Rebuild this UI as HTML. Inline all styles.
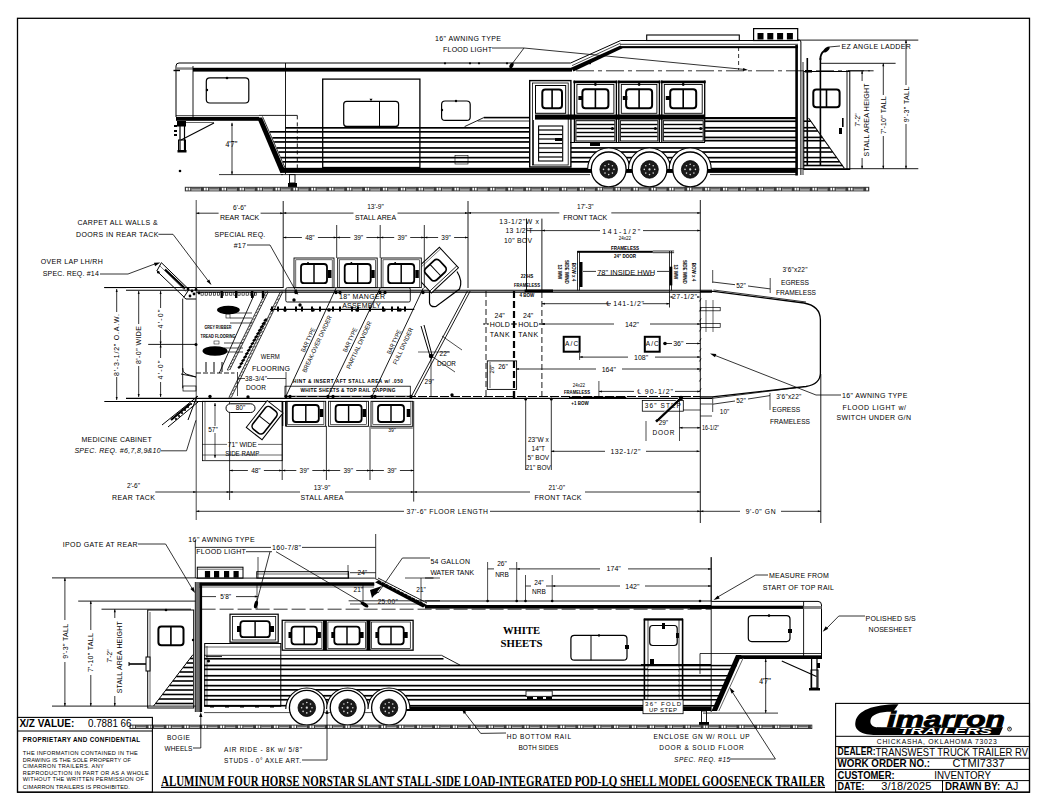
<!DOCTYPE html>
<html><head><meta charset="utf-8"><style>
html,body{margin:0;padding:0;background:#fff;width:1048px;height:810px;overflow:hidden}
svg{display:block}

</style></head><body>
<svg width="1048" height="810" viewBox="0 0 1048 810">
<rect x="0" y="0" width="1048" height="810" fill="#fff"/>
<rect x="17.5" y="18.3" width="1012.0" height="773.9" stroke="#000" stroke-width="1.3" fill="none"/>
<path d="M176,117 L176,66 Q176,63 179,63 L570.6,63 L620.7,40.5 L799,40.5" stroke="#000" stroke-width="1.0" fill="none"/>
<rect x="193.0" y="67.8" width="379.0" height="3.8" fill="#000"/>
<polygon points="571.0,67.8 573.5,71.6 622.5,48.3 620.5,45.6" stroke="#000" stroke-width="0" fill="#000"/>
<rect x="620.5" y="46.1" width="177.5" height="2.1" fill="#000"/>
<line x1="620.0" y1="44.3" x2="798.0" y2="44.3" stroke="#000" stroke-width="0.8" stroke-linecap="butt"/>
<line x1="572.0" y1="65.6" x2="620.5" y2="43.2" stroke="#000" stroke-width="0.7" stroke-linecap="butt"/>
<rect x="176.5" y="67.3" width="16.5" height="2.5" fill="#888"/>
<rect x="173.5" y="69.8" width="6.5" height="1.4" fill="#000"/>
<line x1="193.0" y1="66.0" x2="193.0" y2="117.0" stroke="#000" stroke-width="0.9" stroke-linecap="butt"/>
<line x1="285.5" y1="63.0" x2="285.5" y2="174.0" stroke="#000" stroke-width="0.9" stroke-linecap="butt"/>
<rect x="206.3" y="77.9" width="42.5" height="25.1" stroke="#000" stroke-width="1.2" fill="none" rx="3.5"/>
<circle cx="227.0" cy="78.0" r="1.3" fill="#000"/>
<circle cx="207.0" cy="90.0" r="1.2" fill="#000"/>
<rect x="322.7" y="79.1" width="97.2" height="88.4" stroke="#000" stroke-width="1.3" fill="none"/>
<rect x="343.7" y="101.3" width="54.9" height="25.1" stroke="#000" stroke-width="1.2" fill="none" rx="3"/>
<line x1="379.5" y1="101.3" x2="379.5" y2="126.4" stroke="#000" stroke-width="1.0" stroke-linecap="butt"/>
<polygon points="371.0,101.3 369.5,98.8 372.5,98.8" fill="#000"/>
<rect x="441.6" y="101.0" width="28.6" height="19.4" stroke="#000" stroke-width="1.2" fill="none" rx="3.5"/>
<circle cx="456.0" cy="101.0" r="1.2" fill="#000"/>
<circle cx="442.0" cy="110.0" r="1.2" fill="#000"/>
<rect x="176.0" y="117.0" width="83.0" height="3.8" fill="#000"/>
<line x1="176.0" y1="115.7" x2="259.0" y2="115.7" stroke="#000" stroke-width="0.8" stroke-linecap="butt"/>
<line x1="178.0" y1="122.5" x2="214.0" y2="122.5" stroke="#000" stroke-width="0.6" stroke-linecap="butt"/>
<polygon points="257.0,117.4 262.0,117.4 285.0,170.0 280.5,173.2" stroke="#000" stroke-width="0" fill="#000"/>
<line x1="262.5" y1="116.5" x2="286.0" y2="170.0" stroke="#000" stroke-width="0.8" stroke-linecap="butt"/>
<line x1="259.0" y1="115.4" x2="297.3" y2="115.4" stroke="#000" stroke-width="0.9" stroke-linecap="butt"/>
<line x1="297.3" y1="115.4" x2="297.3" y2="168.0" stroke="#000" stroke-width="0.9" stroke-linecap="butt" stroke-dasharray="4,3"/>
<rect x="285.5" y="127.0" width="244.2" height="1.7" fill="#000"/>
<rect x="269.8" y="131.0" width="259.9" height="1.7" fill="#000"/>
<rect x="272.4" y="137.0" width="257.3" height="1.7" fill="#000"/>
<rect x="274.2" y="141.1" width="255.5" height="1.7" fill="#000"/>
<rect x="276.8" y="147.1" width="252.9" height="1.7" fill="#000"/>
<rect x="278.6" y="151.2" width="251.1" height="1.7" fill="#000"/>
<rect x="281.0" y="156.8" width="248.7" height="1.7" fill="#000"/>
<rect x="282.8" y="161.0" width="246.9" height="1.7" fill="#000"/>
<line x1="464.6" y1="126.6" x2="483.8" y2="117.6" stroke="#000" stroke-width="0.9" stroke-linecap="butt"/>
<rect x="483.8" y="116.8" width="46.2" height="1.6" fill="#000"/>
<line x1="477.6" y1="121.0" x2="530.0" y2="121.0" stroke="#000" stroke-width="0.8" stroke-linecap="butt"/>
<rect x="455.0" y="155.5" width="13.0" height="8.5" stroke="#000" stroke-width="0.6" fill="none"/>
<rect x="281.0" y="167.8" width="516.0" height="5.1" fill="#000"/>
<line x1="281.0" y1="174.6" x2="590.0" y2="174.6" stroke="#000" stroke-width="0.8" stroke-linecap="butt"/>
<line x1="710.0" y1="174.6" x2="797.0" y2="174.6" stroke="#000" stroke-width="0.8" stroke-linecap="butt"/>
<rect x="177.0" y="121.0" width="9.0" height="5.5" fill="#000"/>
<line x1="180.0" y1="121.0" x2="180.0" y2="150.0" stroke="#000" stroke-width="1.2" stroke-linecap="butt"/>
<line x1="184.5" y1="121.0" x2="184.5" y2="150.0" stroke="#000" stroke-width="1.2" stroke-linecap="butt"/>
<rect x="178.5" y="140.0" width="7.0" height="11.0" stroke="#000" stroke-width="1.0" fill="none"/>
<rect x="177.5" y="150.0" width="9.0" height="2.5" fill="#000"/>
<line x1="181.0" y1="140.0" x2="214.0" y2="123.0" stroke="#000" stroke-width="1.1" stroke-linecap="butt"/>
<rect x="174.0" y="125.0" width="3.0" height="2.0" fill="#000"/>
<rect x="174.0" y="130.0" width="3.0" height="2.0" fill="#000"/>
<rect x="174.0" y="134.0" width="3.0" height="2.0" fill="#000"/>
<circle cx="180.0" cy="171.0" r="1.3" fill="#000"/>
<line x1="232.0" y1="122.8" x2="232.0" y2="174.6" stroke="#000" stroke-width="0.8" stroke-linecap="butt"/>
<polygon points="232.0,122.8 233.0,125.8 231.0,125.8" fill="#000"/>
<polygon points="232.0,174.6 231.0,171.6 233.0,171.6" fill="#000"/>
<line x1="219.0" y1="174.6" x2="283.0" y2="174.6" stroke="#000" stroke-width="0.8" stroke-linecap="butt"/>
<text x="231.5" y="147.2" font-family="Liberation Serif" font-size="7.5" text-anchor="middle" fill="#000" stroke="#000" stroke-width="0.1">4'7"</text>
<rect x="289.5" y="174.6" width="5.5" height="8.4" stroke="#000" stroke-width="0.9" fill="none"/>
<rect x="288.0" y="183.0" width="9.0" height="4.0" fill="#000"/>
<rect x="529.7" y="80.6" width="41.2" height="86.4" stroke="#000" stroke-width="1.4" fill="none"/>
<rect x="532.4" y="83.0" width="35.8" height="82.0" stroke="#000" stroke-width="0.8" fill="none"/>
<rect x="535.5" y="85.5" width="30.2" height="27.8" stroke="#000" stroke-width="1.0" fill="none"/>
<rect x="542.3" y="89.6" width="19.7" height="18.7" stroke="#000" stroke-width="2.0" fill="none" rx="3"/>
<line x1="552.1" y1="89.6" x2="552.1" y2="108.3" stroke="#000" stroke-width="1.6" stroke-linecap="butt"/>
<rect x="538.6" y="126.0" width="24.1" height="35.0" stroke="#000" stroke-width="1.1" fill="none"/>
<rect x="539.0" y="129.4" width="23.3" height="1.2" fill="#000"/>
<rect x="539.0" y="133.9" width="23.3" height="1.2" fill="#000"/>
<rect x="539.0" y="138.4" width="23.3" height="1.2" fill="#000"/>
<rect x="539.0" y="142.9" width="23.3" height="1.2" fill="#000"/>
<rect x="539.0" y="147.4" width="23.3" height="1.2" fill="#000"/>
<rect x="539.0" y="151.9" width="23.3" height="1.2" fill="#000"/>
<rect x="539.0" y="156.4" width="23.3" height="1.2" fill="#000"/>
<rect x="555.0" y="138.0" width="7.0" height="3.0" fill="#000"/>
<line x1="533.5" y1="120.0" x2="533.5" y2="165.0" stroke="#000" stroke-width="0.8" stroke-linecap="butt"/>
<rect x="573.4" y="80.6" width="44.0" height="2.6" fill="#000"/>
<line x1="574.4" y1="80.6" x2="574.4" y2="142.0" stroke="#000" stroke-width="1.3" stroke-linecap="butt"/>
<line x1="616.4" y1="80.6" x2="616.4" y2="142.0" stroke="#000" stroke-width="1.3" stroke-linecap="butt"/>
<rect x="576.9" y="84.5" width="37.0" height="28.8" stroke="#000" stroke-width="0.9" fill="none"/>
<rect x="582.4" y="89.2" width="26.0" height="19.1" stroke="#000" stroke-width="2.0" fill="none" rx="3"/>
<line x1="595.4" y1="89.2" x2="595.4" y2="108.3" stroke="#000" stroke-width="1.6" stroke-linecap="butt"/>
<circle cx="595.4" cy="84.5" r="1.4" fill="#000"/>
<rect x="578.4" y="96.0" width="4.6" height="4.0" fill="#000"/>
<rect x="575.9" y="120.7" width="39.0" height="20.3" stroke="#000" stroke-width="1.0" fill="none"/>
<rect x="576.4" y="123.8" width="38.0" height="1.4" fill="#000"/>
<rect x="576.4" y="127.8" width="38.0" height="1.4" fill="#000"/>
<rect x="576.4" y="131.8" width="38.0" height="1.4" fill="#000"/>
<rect x="576.4" y="135.8" width="38.0" height="1.4" fill="#000"/>
<circle cx="612.4" cy="128.5" r="1.5" fill="#000"/>
<rect x="617.8" y="80.6" width="42.6" height="2.6" fill="#000"/>
<line x1="618.8" y1="80.6" x2="618.8" y2="142.0" stroke="#000" stroke-width="1.3" stroke-linecap="butt"/>
<line x1="659.4" y1="80.6" x2="659.4" y2="142.0" stroke="#000" stroke-width="1.3" stroke-linecap="butt"/>
<rect x="621.3" y="84.5" width="35.6" height="28.8" stroke="#000" stroke-width="0.9" fill="none"/>
<rect x="626.1" y="89.2" width="26.0" height="19.1" stroke="#000" stroke-width="2.0" fill="none" rx="3"/>
<line x1="639.1" y1="89.2" x2="639.1" y2="108.3" stroke="#000" stroke-width="1.6" stroke-linecap="butt"/>
<circle cx="639.1" cy="84.5" r="1.4" fill="#000"/>
<rect x="622.8" y="96.0" width="4.6" height="4.0" fill="#000"/>
<rect x="620.3" y="120.7" width="37.6" height="20.3" stroke="#000" stroke-width="1.0" fill="none"/>
<rect x="620.8" y="123.8" width="36.6" height="1.4" fill="#000"/>
<rect x="620.8" y="127.8" width="36.6" height="1.4" fill="#000"/>
<rect x="620.8" y="131.8" width="36.6" height="1.4" fill="#000"/>
<rect x="620.8" y="135.8" width="36.6" height="1.4" fill="#000"/>
<circle cx="655.4" cy="128.5" r="1.5" fill="#000"/>
<rect x="660.8" y="80.6" width="44.9" height="2.6" fill="#000"/>
<line x1="661.8" y1="80.6" x2="661.8" y2="142.0" stroke="#000" stroke-width="1.3" stroke-linecap="butt"/>
<line x1="704.7" y1="80.6" x2="704.7" y2="142.0" stroke="#000" stroke-width="1.3" stroke-linecap="butt"/>
<rect x="664.3" y="84.5" width="37.9" height="28.8" stroke="#000" stroke-width="0.9" fill="none"/>
<rect x="670.2" y="89.2" width="26.0" height="19.1" stroke="#000" stroke-width="2.0" fill="none" rx="3"/>
<line x1="683.2" y1="89.2" x2="683.2" y2="108.3" stroke="#000" stroke-width="1.6" stroke-linecap="butt"/>
<circle cx="683.2" cy="84.5" r="1.4" fill="#000"/>
<rect x="665.8" y="96.0" width="4.6" height="4.0" fill="#000"/>
<rect x="663.3" y="120.7" width="39.9" height="20.3" stroke="#000" stroke-width="1.0" fill="none"/>
<rect x="663.8" y="123.8" width="38.9" height="1.4" fill="#000"/>
<rect x="663.8" y="127.8" width="38.9" height="1.4" fill="#000"/>
<rect x="663.8" y="131.8" width="38.9" height="1.4" fill="#000"/>
<rect x="663.8" y="135.8" width="38.9" height="1.4" fill="#000"/>
<circle cx="700.7" cy="128.5" r="1.5" fill="#000"/>
<rect x="535.0" y="114.5" width="170.0" height="5.1" fill="#000"/>
<line x1="570.0" y1="142.5" x2="705.0" y2="142.5" stroke="#000" stroke-width="1.0" stroke-linecap="butt"/>
<rect x="570.9" y="147.1" width="226.1" height="1.7" fill="#000"/>
<rect x="570.9" y="151.2" width="226.1" height="1.7" fill="#000"/>
<rect x="570.9" y="156.8" width="226.1" height="1.7" fill="#000"/>
<rect x="570.9" y="161.0" width="226.1" height="1.7" fill="#000"/>
<rect x="705.0" y="120.4" width="92.0" height="1.7" fill="#000"/>
<rect x="705.0" y="126.9" width="92.0" height="1.7" fill="#000"/>
<rect x="705.0" y="130.2" width="92.0" height="1.7" fill="#000"/>
<rect x="705.0" y="136.6" width="92.0" height="1.7" fill="#000"/>
<rect x="705.0" y="139.8" width="92.0" height="1.7" fill="#000"/>
<rect x="705.0" y="117.0" width="92.0" height="2.2" fill="#000"/>
<rect x="590.0" y="143.0" width="10.0" height="3.0" fill="#000"/>
<path d="M587.7,169 A21,21 0 0 1 629.7,169" stroke="#000" stroke-width="1.1" fill="#fff"/>
<path d="M628.5,169 A21,21 0 0 1 670.5,169" stroke="#000" stroke-width="1.1" fill="#fff"/>
<path d="M669.2,169 A21,21 0 0 1 711.2,169" stroke="#000" stroke-width="1.1" fill="#fff"/>
<circle cx="608.7" cy="169.4" r="17.4" stroke="#000" stroke-width="1.3" fill="#fff"/>
<circle cx="608.7" cy="169.4" r="8.8" stroke="#000" stroke-width="0.8" fill="#1a1a1a"/>
<circle cx="613.9" cy="169.4" r="0.9" fill="#000"/>
<circle cx="613.9" cy="169.4" r="0.8" fill="#ddd"/>
<circle cx="612.4" cy="173.1" r="0.9" fill="#000"/>
<circle cx="612.4" cy="173.1" r="0.8" fill="#ddd"/>
<circle cx="608.7" cy="174.6" r="0.9" fill="#000"/>
<circle cx="608.7" cy="174.6" r="0.8" fill="#ddd"/>
<circle cx="605.0" cy="173.1" r="0.9" fill="#000"/>
<circle cx="605.0" cy="173.1" r="0.8" fill="#ddd"/>
<circle cx="603.5" cy="169.4" r="0.9" fill="#000"/>
<circle cx="603.5" cy="169.4" r="0.8" fill="#ddd"/>
<circle cx="605.0" cy="165.7" r="0.9" fill="#000"/>
<circle cx="605.0" cy="165.7" r="0.8" fill="#ddd"/>
<circle cx="608.7" cy="164.2" r="0.9" fill="#000"/>
<circle cx="608.7" cy="164.2" r="0.8" fill="#ddd"/>
<circle cx="612.4" cy="165.7" r="0.9" fill="#000"/>
<circle cx="612.4" cy="165.7" r="0.8" fill="#ddd"/>
<circle cx="608.7" cy="169.4" r="1.1" fill="#ddd"/>
<circle cx="649.5" cy="169.4" r="17.4" stroke="#000" stroke-width="1.3" fill="#fff"/>
<circle cx="649.5" cy="169.4" r="8.8" stroke="#000" stroke-width="0.8" fill="#1a1a1a"/>
<circle cx="654.7" cy="169.4" r="0.9" fill="#000"/>
<circle cx="654.7" cy="169.4" r="0.8" fill="#ddd"/>
<circle cx="653.2" cy="173.1" r="0.9" fill="#000"/>
<circle cx="653.2" cy="173.1" r="0.8" fill="#ddd"/>
<circle cx="649.5" cy="174.6" r="0.9" fill="#000"/>
<circle cx="649.5" cy="174.6" r="0.8" fill="#ddd"/>
<circle cx="645.8" cy="173.1" r="0.9" fill="#000"/>
<circle cx="645.8" cy="173.1" r="0.8" fill="#ddd"/>
<circle cx="644.3" cy="169.4" r="0.9" fill="#000"/>
<circle cx="644.3" cy="169.4" r="0.8" fill="#ddd"/>
<circle cx="645.8" cy="165.7" r="0.9" fill="#000"/>
<circle cx="645.8" cy="165.7" r="0.8" fill="#ddd"/>
<circle cx="649.5" cy="164.2" r="0.9" fill="#000"/>
<circle cx="649.5" cy="164.2" r="0.8" fill="#ddd"/>
<circle cx="653.2" cy="165.7" r="0.9" fill="#000"/>
<circle cx="653.2" cy="165.7" r="0.8" fill="#ddd"/>
<circle cx="649.5" cy="169.4" r="1.1" fill="#ddd"/>
<circle cx="690.2" cy="169.4" r="17.4" stroke="#000" stroke-width="1.3" fill="#fff"/>
<circle cx="690.2" cy="169.4" r="8.8" stroke="#000" stroke-width="0.8" fill="#1a1a1a"/>
<circle cx="695.4" cy="169.4" r="0.9" fill="#000"/>
<circle cx="695.4" cy="169.4" r="0.8" fill="#ddd"/>
<circle cx="693.9" cy="173.1" r="0.9" fill="#000"/>
<circle cx="693.9" cy="173.1" r="0.8" fill="#ddd"/>
<circle cx="690.2" cy="174.6" r="0.9" fill="#000"/>
<circle cx="690.2" cy="174.6" r="0.8" fill="#ddd"/>
<circle cx="686.5" cy="173.1" r="0.9" fill="#000"/>
<circle cx="686.5" cy="173.1" r="0.8" fill="#ddd"/>
<circle cx="685.0" cy="169.4" r="0.9" fill="#000"/>
<circle cx="685.0" cy="169.4" r="0.8" fill="#ddd"/>
<circle cx="686.5" cy="165.7" r="0.9" fill="#000"/>
<circle cx="686.5" cy="165.7" r="0.8" fill="#ddd"/>
<circle cx="690.2" cy="164.2" r="0.9" fill="#000"/>
<circle cx="690.2" cy="164.2" r="0.8" fill="#ddd"/>
<circle cx="693.9" cy="165.7" r="0.9" fill="#000"/>
<circle cx="693.9" cy="165.7" r="0.8" fill="#ddd"/>
<circle cx="690.2" cy="169.4" r="1.1" fill="#ddd"/>
<rect x="646.7" y="35.0" width="92.6" height="5.5" stroke="#000" stroke-width="1.1" fill="none"/>
<rect x="753.6" y="28.6" width="44.1" height="11.9" stroke="#000" stroke-width="1.2" fill="none"/>
<rect x="757.5" y="33.0" width="6.0" height="6.5" fill="#000"/>
<rect x="767.3" y="33.0" width="6.0" height="6.5" fill="#000"/>
<rect x="777.1" y="33.0" width="6.0" height="6.5" fill="#000"/>
<rect x="786.9" y="33.0" width="6.0" height="6.5" fill="#000"/>
<rect x="795.3" y="45.0" width="2.6" height="130.5" fill="#000"/>
<path d="M797.9,40 L799,40 Q800.9,40 800.9,42 L800.9,175" stroke="#000" stroke-width="1.0" fill="none"/>
<line x1="803.0" y1="62.0" x2="803.0" y2="175.0" stroke="#000" stroke-width="0.8" stroke-linecap="butt"/>
<line x1="576.0" y1="70.8" x2="870.0" y2="70.8" stroke="#000" stroke-width="0.8" stroke-linecap="butt" stroke-dasharray="18,4,4,4"/>
<line x1="738.6" y1="47.0" x2="738.6" y2="70.0" stroke="#000" stroke-width="0.8" stroke-linecap="butt" stroke-dasharray="4,3"/>
<line x1="492.0" y1="48.0" x2="524.0" y2="48.0" stroke="#000" stroke-width="0.8" stroke-linecap="butt"/>
<line x1="524.0" y1="48.0" x2="745.0" y2="69.5" stroke="#000" stroke-width="0.8" stroke-linecap="butt"/>
<polygon points="748.0,70.0 742.9,71.1 743.2,67.9" fill="#000"/>
<line x1="524.0" y1="48.0" x2="512.0" y2="64.0" stroke="#000" stroke-width="0.8" stroke-linecap="butt"/>
<ellipse cx="511.5" cy="65.5" rx="1.8" ry="3" fill="#000" transform="rotate(30 511.5 65.5)"/>
<text x="435.0" y="41.1" font-family="Liberation Sans" font-size="7" text-anchor="start" textLength="66.0" lengthAdjust="spacing" fill="#000">16" AWNING TYPE</text>
<text x="443.0" y="52.1" font-family="Liberation Sans" font-size="7" text-anchor="start" textLength="49.0" lengthAdjust="spacing" fill="#000">FLOOD LIGHT</text>
<circle cx="445.0" cy="63.3" r="1.1" fill="#000"/>
<circle cx="470.0" cy="63.3" r="1.1" fill="#000"/>
<circle cx="479.0" cy="63.3" r="1.1" fill="#000"/>
<circle cx="507.0" cy="63.3" r="1.1" fill="#000"/>
<circle cx="590.0" cy="63.3" r="1.1" fill="#000"/>
<line x1="807.3" y1="58.0" x2="807.3" y2="166.0" stroke="#000" stroke-width="1.6" stroke-linecap="butt"/>
<line x1="820.4" y1="58.0" x2="820.4" y2="166.0" stroke="#000" stroke-width="1.6" stroke-linecap="butt"/>
<path d="M820.4,60 Q820,54 824,51" stroke="#000" stroke-width="1.8" fill="none"/>
<ellipse cx="826.5" cy="49.5" rx="1.8" ry="3.8" fill="#000" transform="rotate(50 826.5 49.5)"/>
<line x1="829.0" y1="47.0" x2="840.0" y2="46.0" stroke="#000" stroke-width="0.8" stroke-linecap="butt"/>
<text x="841.6" y="49.1" font-family="Liberation Sans" font-size="7" text-anchor="start" textLength="69.2" lengthAdjust="spacing" fill="#000">EZ ANGLE LADDER</text>
<rect x="803.8" y="71.5" width="46.0" height="97.9" stroke="#000" stroke-width="1.0" fill="none"/>
<line x1="847.0" y1="71.5" x2="847.0" y2="169.4" stroke="#000" stroke-width="0.9" stroke-linecap="butt"/>
<rect x="805.0" y="70.0" width="7.0" height="2.5" fill="#000"/>
<rect x="813.3" y="89.4" width="26.3" height="17.9" stroke="#000" stroke-width="2.0" fill="none" rx="3"/>
<line x1="826.5" y1="89.4" x2="826.5" y2="107.3" stroke="#000" stroke-width="1.6" stroke-linecap="butt"/>
<rect x="842.0" y="118.0" width="1.6" height="9.0" fill="#000"/>
<rect x="839.0" y="128.0" width="3.0" height="6.0" fill="#000"/>
<line x1="808.5" y1="118.0" x2="844.3" y2="168.2" stroke="#000" stroke-width="1.1" stroke-linecap="butt"/>
<rect x="803.8" y="120.4" width="7.0" height="1.6" fill="#000"/>
<rect x="803.8" y="126.9" width="11.6" height="1.6" fill="#000"/>
<rect x="803.8" y="130.2" width="14.0" height="1.6" fill="#000"/>
<rect x="803.8" y="136.6" width="18.5" height="1.6" fill="#000"/>
<rect x="803.8" y="139.9" width="20.9" height="1.6" fill="#000"/>
<rect x="803.8" y="147.1" width="26.0" height="1.6" fill="#000"/>
<rect x="803.8" y="151.2" width="28.9" height="1.6" fill="#000"/>
<rect x="803.8" y="156.8" width="32.9" height="1.6" fill="#000"/>
<rect x="803.8" y="161.0" width="35.9" height="1.6" fill="#000"/>
<rect x="803.8" y="164.7" width="38.6" height="1.6" fill="#000"/>
<line x1="803.8" y1="169.4" x2="850.0" y2="169.4" stroke="#000" stroke-width="1.3" stroke-linecap="butt"/>
<line x1="797.0" y1="40.1" x2="918.3" y2="40.1" stroke="#000" stroke-width="0.9" stroke-linecap="butt"/>
<line x1="820.0" y1="63.3" x2="895.6" y2="63.3" stroke="#000" stroke-width="0.9" stroke-linecap="butt"/>
<line x1="848.0" y1="70.8" x2="873.6" y2="70.8" stroke="#000" stroke-width="0.9" stroke-linecap="butt"/>
<line x1="797.0" y1="168.7" x2="918.3" y2="168.7" stroke="#000" stroke-width="0.9" stroke-linecap="butt"/>
<line x1="862.1" y1="70.8" x2="862.1" y2="168.7" stroke="#000" stroke-width="0.8" stroke-linecap="butt"/>
<polygon points="862.1,70.8 863.1,73.8 861.1,73.8" fill="#000"/>
<polygon points="862.1,168.7 861.1,165.7 863.1,165.7" fill="#000"/>
<line x1="883.3" y1="63.3" x2="883.3" y2="168.7" stroke="#000" stroke-width="0.8" stroke-linecap="butt"/>
<polygon points="883.3,63.3 884.3,66.3 882.3,66.3" fill="#000"/>
<polygon points="883.3,168.7 882.3,165.7 884.3,165.7" fill="#000"/>
<line x1="906.0" y1="40.1" x2="906.0" y2="168.7" stroke="#000" stroke-width="0.8" stroke-linecap="butt"/>
<polygon points="906.0,40.1 907.0,43.1 905.0,43.1" fill="#000"/>
<polygon points="906.0,168.7 905.0,165.7 907.0,165.7" fill="#000"/>
<rect x="859.1" y="81.0" width="6.0" height="77.0" fill="#fff"/>
<rect x="880.3" y="95.0" width="6.0" height="41.0" fill="#fff"/>
<rect x="903.0" y="85.0" width="6.0" height="39.0" fill="#fff"/>
<text x="857.8" y="122.3" font-family="Liberation Sans" font-size="6.5" text-anchor="middle" textLength="13.0" lengthAdjust="spacing" transform="rotate(-90 857.8 120.0)" fill="#000">7'-2"</text>
<text x="866.8" y="122.5" font-family="Liberation Sans" font-size="7" text-anchor="middle" textLength="73.0" lengthAdjust="spacing" transform="rotate(-90 866.8 120.0)" fill="#000">STALL AREA HEIGHT</text>
<text x="883.3" y="117.7" font-family="Liberation Sans" font-size="7" text-anchor="middle" textLength="37.7" lengthAdjust="spacing" transform="rotate(-90 883.3 115.2)" fill="#000">7'-10" TALL</text>
<text x="906.0" y="107.0" font-family="Liberation Sans" font-size="7" text-anchor="middle" textLength="35.7" lengthAdjust="spacing" transform="rotate(-90 906.0 104.5)" fill="#000">9'-3" TALL</text>
<rect x="184.8" y="186.8" width="684.5" height="4.6" fill="#3a3a3a"/>
<rect x="186.0" y="187.8" width="1.8" height="2.6" fill="#fafafa"/>
<rect x="188.6" y="187.8" width="1.6" height="2.6" fill="#fafafa"/>
<rect x="191.4" y="187.8" width="9.6" height="2.6" fill="#909090"/>
<rect x="192.0" y="188.2" width="8.4" height="0.9" fill="#606060"/>
<rect x="191.4" y="189.7" width="9.6" height="0.7" fill="#c8c8c8"/>
<rect x="203.9" y="187.8" width="1.8" height="2.6" fill="#fafafa"/>
<rect x="206.5" y="187.8" width="1.6" height="2.6" fill="#fafafa"/>
<rect x="209.3" y="187.8" width="9.6" height="2.6" fill="#909090"/>
<rect x="209.9" y="188.2" width="8.4" height="0.9" fill="#606060"/>
<rect x="209.3" y="189.7" width="9.6" height="0.7" fill="#c8c8c8"/>
<rect x="221.8" y="187.8" width="1.8" height="2.6" fill="#fafafa"/>
<rect x="224.4" y="187.8" width="1.6" height="2.6" fill="#fafafa"/>
<rect x="227.2" y="187.8" width="9.6" height="2.6" fill="#909090"/>
<rect x="227.8" y="188.2" width="8.4" height="0.9" fill="#606060"/>
<rect x="227.2" y="189.7" width="9.6" height="0.7" fill="#c8c8c8"/>
<rect x="239.7" y="187.8" width="1.8" height="2.6" fill="#fafafa"/>
<rect x="242.3" y="187.8" width="1.6" height="2.6" fill="#fafafa"/>
<rect x="245.1" y="187.8" width="9.6" height="2.6" fill="#909090"/>
<rect x="245.7" y="188.2" width="8.4" height="0.9" fill="#606060"/>
<rect x="245.1" y="189.7" width="9.6" height="0.7" fill="#c8c8c8"/>
<rect x="257.6" y="187.8" width="1.8" height="2.6" fill="#fafafa"/>
<rect x="260.2" y="187.8" width="1.6" height="2.6" fill="#fafafa"/>
<rect x="263.0" y="187.8" width="9.6" height="2.6" fill="#909090"/>
<rect x="263.6" y="188.2" width="8.4" height="0.9" fill="#606060"/>
<rect x="263.0" y="189.7" width="9.6" height="0.7" fill="#c8c8c8"/>
<rect x="275.5" y="187.8" width="1.8" height="2.6" fill="#fafafa"/>
<rect x="278.1" y="187.8" width="1.6" height="2.6" fill="#fafafa"/>
<rect x="280.9" y="187.8" width="9.6" height="2.6" fill="#909090"/>
<rect x="281.5" y="188.2" width="8.4" height="0.9" fill="#606060"/>
<rect x="280.9" y="189.7" width="9.6" height="0.7" fill="#c8c8c8"/>
<rect x="293.4" y="187.8" width="1.8" height="2.6" fill="#fafafa"/>
<rect x="296.0" y="187.8" width="1.6" height="2.6" fill="#fafafa"/>
<rect x="298.8" y="187.8" width="9.6" height="2.6" fill="#909090"/>
<rect x="299.4" y="188.2" width="8.4" height="0.9" fill="#606060"/>
<rect x="298.8" y="189.7" width="9.6" height="0.7" fill="#c8c8c8"/>
<rect x="311.3" y="187.8" width="1.8" height="2.6" fill="#fafafa"/>
<rect x="313.9" y="187.8" width="1.6" height="2.6" fill="#fafafa"/>
<rect x="316.7" y="187.8" width="9.6" height="2.6" fill="#909090"/>
<rect x="317.3" y="188.2" width="8.4" height="0.9" fill="#606060"/>
<rect x="316.7" y="189.7" width="9.6" height="0.7" fill="#c8c8c8"/>
<rect x="329.2" y="187.8" width="1.8" height="2.6" fill="#fafafa"/>
<rect x="331.8" y="187.8" width="1.6" height="2.6" fill="#fafafa"/>
<rect x="334.6" y="187.8" width="9.6" height="2.6" fill="#909090"/>
<rect x="335.2" y="188.2" width="8.4" height="0.9" fill="#606060"/>
<rect x="334.6" y="189.7" width="9.6" height="0.7" fill="#c8c8c8"/>
<rect x="347.1" y="187.8" width="1.8" height="2.6" fill="#fafafa"/>
<rect x="349.7" y="187.8" width="1.6" height="2.6" fill="#fafafa"/>
<rect x="352.5" y="187.8" width="9.6" height="2.6" fill="#909090"/>
<rect x="353.1" y="188.2" width="8.4" height="0.9" fill="#606060"/>
<rect x="352.5" y="189.7" width="9.6" height="0.7" fill="#c8c8c8"/>
<rect x="365.0" y="187.8" width="1.8" height="2.6" fill="#fafafa"/>
<rect x="367.6" y="187.8" width="1.6" height="2.6" fill="#fafafa"/>
<rect x="370.4" y="187.8" width="9.6" height="2.6" fill="#909090"/>
<rect x="371.0" y="188.2" width="8.4" height="0.9" fill="#606060"/>
<rect x="370.4" y="189.7" width="9.6" height="0.7" fill="#c8c8c8"/>
<rect x="382.9" y="187.8" width="1.8" height="2.6" fill="#fafafa"/>
<rect x="385.5" y="187.8" width="1.6" height="2.6" fill="#fafafa"/>
<rect x="388.3" y="187.8" width="9.6" height="2.6" fill="#909090"/>
<rect x="388.9" y="188.2" width="8.4" height="0.9" fill="#606060"/>
<rect x="388.3" y="189.7" width="9.6" height="0.7" fill="#c8c8c8"/>
<rect x="400.8" y="187.8" width="1.8" height="2.6" fill="#fafafa"/>
<rect x="403.4" y="187.8" width="1.6" height="2.6" fill="#fafafa"/>
<rect x="406.2" y="187.8" width="9.6" height="2.6" fill="#909090"/>
<rect x="406.8" y="188.2" width="8.4" height="0.9" fill="#606060"/>
<rect x="406.2" y="189.7" width="9.6" height="0.7" fill="#c8c8c8"/>
<rect x="418.7" y="187.8" width="1.8" height="2.6" fill="#fafafa"/>
<rect x="421.3" y="187.8" width="1.6" height="2.6" fill="#fafafa"/>
<rect x="424.1" y="187.8" width="9.6" height="2.6" fill="#909090"/>
<rect x="424.7" y="188.2" width="8.4" height="0.9" fill="#606060"/>
<rect x="424.1" y="189.7" width="9.6" height="0.7" fill="#c8c8c8"/>
<rect x="436.6" y="187.8" width="1.8" height="2.6" fill="#fafafa"/>
<rect x="439.2" y="187.8" width="1.6" height="2.6" fill="#fafafa"/>
<rect x="442.0" y="187.8" width="9.6" height="2.6" fill="#909090"/>
<rect x="442.6" y="188.2" width="8.4" height="0.9" fill="#606060"/>
<rect x="442.0" y="189.7" width="9.6" height="0.7" fill="#c8c8c8"/>
<rect x="454.5" y="187.8" width="1.8" height="2.6" fill="#fafafa"/>
<rect x="457.1" y="187.8" width="1.6" height="2.6" fill="#fafafa"/>
<rect x="459.9" y="187.8" width="9.6" height="2.6" fill="#909090"/>
<rect x="460.5" y="188.2" width="8.4" height="0.9" fill="#606060"/>
<rect x="459.9" y="189.7" width="9.6" height="0.7" fill="#c8c8c8"/>
<rect x="472.4" y="187.8" width="1.8" height="2.6" fill="#fafafa"/>
<rect x="475.0" y="187.8" width="1.6" height="2.6" fill="#fafafa"/>
<rect x="477.8" y="187.8" width="9.6" height="2.6" fill="#909090"/>
<rect x="478.4" y="188.2" width="8.4" height="0.9" fill="#606060"/>
<rect x="477.8" y="189.7" width="9.6" height="0.7" fill="#c8c8c8"/>
<rect x="490.3" y="187.8" width="1.8" height="2.6" fill="#fafafa"/>
<rect x="492.9" y="187.8" width="1.6" height="2.6" fill="#fafafa"/>
<rect x="495.7" y="187.8" width="9.6" height="2.6" fill="#909090"/>
<rect x="496.3" y="188.2" width="8.4" height="0.9" fill="#606060"/>
<rect x="495.7" y="189.7" width="9.6" height="0.7" fill="#c8c8c8"/>
<rect x="508.2" y="187.8" width="1.8" height="2.6" fill="#fafafa"/>
<rect x="510.8" y="187.8" width="1.6" height="2.6" fill="#fafafa"/>
<rect x="513.6" y="187.8" width="9.6" height="2.6" fill="#909090"/>
<rect x="514.2" y="188.2" width="8.4" height="0.9" fill="#606060"/>
<rect x="513.6" y="189.7" width="9.6" height="0.7" fill="#c8c8c8"/>
<rect x="526.1" y="187.8" width="1.8" height="2.6" fill="#fafafa"/>
<rect x="528.7" y="187.8" width="1.6" height="2.6" fill="#fafafa"/>
<rect x="531.5" y="187.8" width="9.6" height="2.6" fill="#909090"/>
<rect x="532.1" y="188.2" width="8.4" height="0.9" fill="#606060"/>
<rect x="531.5" y="189.7" width="9.6" height="0.7" fill="#c8c8c8"/>
<rect x="544.0" y="187.8" width="1.8" height="2.6" fill="#fafafa"/>
<rect x="546.6" y="187.8" width="1.6" height="2.6" fill="#fafafa"/>
<rect x="549.4" y="187.8" width="9.6" height="2.6" fill="#909090"/>
<rect x="550.0" y="188.2" width="8.4" height="0.9" fill="#606060"/>
<rect x="549.4" y="189.7" width="9.6" height="0.7" fill="#c8c8c8"/>
<rect x="561.9" y="187.8" width="1.8" height="2.6" fill="#fafafa"/>
<rect x="564.5" y="187.8" width="1.6" height="2.6" fill="#fafafa"/>
<rect x="567.3" y="187.8" width="9.6" height="2.6" fill="#909090"/>
<rect x="567.9" y="188.2" width="8.4" height="0.9" fill="#606060"/>
<rect x="567.3" y="189.7" width="9.6" height="0.7" fill="#c8c8c8"/>
<rect x="579.8" y="187.8" width="1.8" height="2.6" fill="#fafafa"/>
<rect x="582.4" y="187.8" width="1.6" height="2.6" fill="#fafafa"/>
<rect x="585.2" y="187.8" width="9.6" height="2.6" fill="#909090"/>
<rect x="585.8" y="188.2" width="8.4" height="0.9" fill="#606060"/>
<rect x="585.2" y="189.7" width="9.6" height="0.7" fill="#c8c8c8"/>
<rect x="597.7" y="187.8" width="1.8" height="2.6" fill="#fafafa"/>
<rect x="600.3" y="187.8" width="1.6" height="2.6" fill="#fafafa"/>
<rect x="603.1" y="187.8" width="9.6" height="2.6" fill="#909090"/>
<rect x="603.7" y="188.2" width="8.4" height="0.9" fill="#606060"/>
<rect x="603.1" y="189.7" width="9.6" height="0.7" fill="#c8c8c8"/>
<rect x="615.6" y="187.8" width="1.8" height="2.6" fill="#fafafa"/>
<rect x="618.2" y="187.8" width="1.6" height="2.6" fill="#fafafa"/>
<rect x="621.0" y="187.8" width="9.6" height="2.6" fill="#909090"/>
<rect x="621.6" y="188.2" width="8.4" height="0.9" fill="#606060"/>
<rect x="621.0" y="189.7" width="9.6" height="0.7" fill="#c8c8c8"/>
<rect x="633.5" y="187.8" width="1.8" height="2.6" fill="#fafafa"/>
<rect x="636.1" y="187.8" width="1.6" height="2.6" fill="#fafafa"/>
<rect x="638.9" y="187.8" width="9.6" height="2.6" fill="#909090"/>
<rect x="639.5" y="188.2" width="8.4" height="0.9" fill="#606060"/>
<rect x="638.9" y="189.7" width="9.6" height="0.7" fill="#c8c8c8"/>
<rect x="651.4" y="187.8" width="1.8" height="2.6" fill="#fafafa"/>
<rect x="654.0" y="187.8" width="1.6" height="2.6" fill="#fafafa"/>
<rect x="656.8" y="187.8" width="9.6" height="2.6" fill="#909090"/>
<rect x="657.4" y="188.2" width="8.4" height="0.9" fill="#606060"/>
<rect x="656.8" y="189.7" width="9.6" height="0.7" fill="#c8c8c8"/>
<rect x="669.3" y="187.8" width="1.8" height="2.6" fill="#fafafa"/>
<rect x="671.9" y="187.8" width="1.6" height="2.6" fill="#fafafa"/>
<rect x="674.7" y="187.8" width="9.6" height="2.6" fill="#909090"/>
<rect x="675.3" y="188.2" width="8.4" height="0.9" fill="#606060"/>
<rect x="674.7" y="189.7" width="9.6" height="0.7" fill="#c8c8c8"/>
<rect x="687.2" y="187.8" width="1.8" height="2.6" fill="#fafafa"/>
<rect x="689.8" y="187.8" width="1.6" height="2.6" fill="#fafafa"/>
<rect x="692.6" y="187.8" width="9.6" height="2.6" fill="#909090"/>
<rect x="693.2" y="188.2" width="8.4" height="0.9" fill="#606060"/>
<rect x="692.6" y="189.7" width="9.6" height="0.7" fill="#c8c8c8"/>
<rect x="705.1" y="187.8" width="1.8" height="2.6" fill="#fafafa"/>
<rect x="707.7" y="187.8" width="1.6" height="2.6" fill="#fafafa"/>
<rect x="710.5" y="187.8" width="9.6" height="2.6" fill="#909090"/>
<rect x="711.1" y="188.2" width="8.4" height="0.9" fill="#606060"/>
<rect x="710.5" y="189.7" width="9.6" height="0.7" fill="#c8c8c8"/>
<rect x="723.0" y="187.8" width="1.8" height="2.6" fill="#fafafa"/>
<rect x="725.6" y="187.8" width="1.6" height="2.6" fill="#fafafa"/>
<rect x="728.4" y="187.8" width="9.6" height="2.6" fill="#909090"/>
<rect x="729.0" y="188.2" width="8.4" height="0.9" fill="#606060"/>
<rect x="728.4" y="189.7" width="9.6" height="0.7" fill="#c8c8c8"/>
<rect x="740.9" y="187.8" width="1.8" height="2.6" fill="#fafafa"/>
<rect x="743.5" y="187.8" width="1.6" height="2.6" fill="#fafafa"/>
<rect x="746.3" y="187.8" width="9.6" height="2.6" fill="#909090"/>
<rect x="746.9" y="188.2" width="8.4" height="0.9" fill="#606060"/>
<rect x="746.3" y="189.7" width="9.6" height="0.7" fill="#c8c8c8"/>
<rect x="758.8" y="187.8" width="1.8" height="2.6" fill="#fafafa"/>
<rect x="761.4" y="187.8" width="1.6" height="2.6" fill="#fafafa"/>
<rect x="764.2" y="187.8" width="9.6" height="2.6" fill="#909090"/>
<rect x="764.8" y="188.2" width="8.4" height="0.9" fill="#606060"/>
<rect x="764.2" y="189.7" width="9.6" height="0.7" fill="#c8c8c8"/>
<rect x="776.7" y="187.8" width="1.8" height="2.6" fill="#fafafa"/>
<rect x="779.3" y="187.8" width="1.6" height="2.6" fill="#fafafa"/>
<rect x="782.1" y="187.8" width="9.6" height="2.6" fill="#909090"/>
<rect x="782.7" y="188.2" width="8.4" height="0.9" fill="#606060"/>
<rect x="782.1" y="189.7" width="9.6" height="0.7" fill="#c8c8c8"/>
<rect x="794.6" y="187.8" width="1.8" height="2.6" fill="#fafafa"/>
<rect x="797.2" y="187.8" width="1.6" height="2.6" fill="#fafafa"/>
<rect x="800.0" y="187.8" width="9.6" height="2.6" fill="#909090"/>
<rect x="800.6" y="188.2" width="8.4" height="0.9" fill="#606060"/>
<rect x="800.0" y="189.7" width="9.6" height="0.7" fill="#c8c8c8"/>
<rect x="812.5" y="187.8" width="1.8" height="2.6" fill="#fafafa"/>
<rect x="815.1" y="187.8" width="1.6" height="2.6" fill="#fafafa"/>
<rect x="817.9" y="187.8" width="9.6" height="2.6" fill="#909090"/>
<rect x="818.5" y="188.2" width="8.4" height="0.9" fill="#606060"/>
<rect x="817.9" y="189.7" width="9.6" height="0.7" fill="#c8c8c8"/>
<rect x="830.4" y="187.8" width="1.8" height="2.6" fill="#fafafa"/>
<rect x="833.0" y="187.8" width="1.6" height="2.6" fill="#fafafa"/>
<rect x="835.8" y="187.8" width="9.6" height="2.6" fill="#909090"/>
<rect x="836.4" y="188.2" width="8.4" height="0.9" fill="#606060"/>
<rect x="835.8" y="189.7" width="9.6" height="0.7" fill="#c8c8c8"/>
<rect x="848.3" y="187.8" width="1.8" height="2.6" fill="#fafafa"/>
<rect x="850.9" y="187.8" width="1.6" height="2.6" fill="#fafafa"/>
<rect x="853.7" y="187.8" width="9.6" height="2.6" fill="#909090"/>
<rect x="854.3" y="188.2" width="8.4" height="0.9" fill="#606060"/>
<rect x="853.7" y="189.7" width="9.6" height="0.7" fill="#c8c8c8"/>
<rect x="866.2" y="187.8" width="1.8" height="2.6" fill="#fafafa"/>
<line x1="104.3" y1="287.5" x2="283.5" y2="287.5" stroke="#000" stroke-width="1.0" stroke-linecap="butt"/>
<line x1="126.0" y1="290.2" x2="712.0" y2="290.2" stroke="#000" stroke-width="1.1" stroke-linecap="butt"/>
<line x1="196.0" y1="292.1" x2="712.0" y2="292.1" stroke="#000" stroke-width="1.1" stroke-linecap="butt"/>
<line x1="104.3" y1="401.5" x2="290.0" y2="401.5" stroke="#000" stroke-width="1.0" stroke-linecap="butt"/>
<line x1="126.0" y1="398.4" x2="712.0" y2="398.4" stroke="#000" stroke-width="1.1" stroke-linecap="butt"/>
<line x1="286.0" y1="396.5" x2="700.0" y2="396.5" stroke="#000" stroke-width="1.0" stroke-linecap="butt" stroke-dasharray="9,2"/>
<path d="M700,291.4 L713.5,291.4 L804,303 Q820.4,306 820.4,320 L820.4,373 Q820.4,384 806,386.5 L712.2,396.8 L700,396.8" stroke="#000" stroke-width="1.3" fill="none"/>
<line x1="713.5" y1="290.0" x2="806.0" y2="302.0" stroke="#000" stroke-width="0.8" stroke-linecap="butt"/>
<line x1="712.2" y1="398.3" x2="796.0" y2="387.7" stroke="#000" stroke-width="0.8" stroke-linecap="butt"/>
<line x1="196.2" y1="200.0" x2="196.2" y2="520.0" stroke="#333" stroke-width="0.9" stroke-linecap="butt"/>
<line x1="283.2" y1="201.0" x2="283.2" y2="287.6" stroke="#000" stroke-width="0.9" stroke-linecap="butt"/>
<line x1="468.0" y1="201.0" x2="468.0" y2="288.0" stroke="#000" stroke-width="0.9" stroke-linecap="butt"/>
<line x1="700.3" y1="200.0" x2="700.3" y2="523.0" stroke="#000" stroke-width="0.9" stroke-linecap="butt"/>
<line x1="820.8" y1="374.0" x2="820.8" y2="523.0" stroke="#000" stroke-width="0.9" stroke-linecap="butt"/>
<line x1="182.7" y1="298.6" x2="182.7" y2="388.3" stroke="#000" stroke-width="0.9" stroke-linecap="butt"/>
<line x1="229.6" y1="401.0" x2="229.6" y2="500.0" stroke="#000" stroke-width="0.8" stroke-linecap="butt"/>
<line x1="413.7" y1="401.0" x2="413.7" y2="501.6" stroke="#000" stroke-width="0.8" stroke-linecap="butt"/>
<line x1="336.7" y1="225.0" x2="336.7" y2="258.0" stroke="#000" stroke-width="0.8" stroke-linecap="butt"/>
<line x1="380.2" y1="225.0" x2="380.2" y2="258.0" stroke="#000" stroke-width="0.8" stroke-linecap="butt"/>
<line x1="424.3" y1="225.0" x2="424.3" y2="258.0" stroke="#000" stroke-width="0.8" stroke-linecap="butt"/>
<line x1="282.2" y1="426.0" x2="282.2" y2="480.0" stroke="#000" stroke-width="0.8" stroke-linecap="butt"/>
<line x1="326.4" y1="426.0" x2="326.4" y2="480.0" stroke="#000" stroke-width="0.8" stroke-linecap="butt"/>
<line x1="370.0" y1="426.0" x2="370.0" y2="480.0" stroke="#000" stroke-width="0.8" stroke-linecap="butt"/>
<line x1="196.2" y1="213.2" x2="218.6" y2="213.2" stroke="#000" stroke-width="0.8" stroke-linecap="butt"/>
<line x1="260.6" y1="213.2" x2="283.2" y2="213.2" stroke="#000" stroke-width="0.8" stroke-linecap="butt"/>
<polygon points="196.2,213.2 199.2,212.2 199.2,214.2" fill="#000"/>
<polygon points="283.2,213.2 280.2,214.2 280.2,212.2" fill="#000"/>
<text x="239.6" y="209.5" font-family="Liberation Sans" font-size="6.5" text-anchor="middle" fill="#000">6'-6"</text>
<text x="239.6" y="220.2" font-family="Liberation Sans" font-size="7" text-anchor="middle" fill="#000">REAR TACK</text>
<line x1="283.2" y1="213.1" x2="353.5" y2="213.1" stroke="#000" stroke-width="0.8" stroke-linecap="butt"/>
<line x1="397.5" y1="213.1" x2="468.0" y2="213.1" stroke="#000" stroke-width="0.8" stroke-linecap="butt"/>
<polygon points="283.2,213.1 286.2,212.1 286.2,214.1" fill="#000"/>
<polygon points="468.0,213.1 465.0,214.1 465.0,212.1" fill="#000"/>
<text x="375.5" y="209.4" font-family="Liberation Sans" font-size="6.5" text-anchor="middle" fill="#000">13'-9"</text>
<text x="375.5" y="220.1" font-family="Liberation Sans" font-size="7" text-anchor="middle" fill="#000">STALL AREA</text>
<line x1="468.0" y1="212.9" x2="559.3" y2="212.9" stroke="#000" stroke-width="0.8" stroke-linecap="butt"/>
<line x1="611.3" y1="212.9" x2="700.3" y2="212.9" stroke="#000" stroke-width="0.8" stroke-linecap="butt"/>
<polygon points="468.0,212.9 471.0,211.9 471.0,213.9" fill="#000"/>
<polygon points="700.3,212.9 697.3,213.9 697.3,211.9" fill="#000"/>
<text x="585.3" y="209.2" font-family="Liberation Sans" font-size="6.5" text-anchor="middle" fill="#000">17'-3"</text>
<text x="585.3" y="219.9" font-family="Liberation Sans" font-size="7" text-anchor="middle" fill="#000">FRONT TACK</text>
<line x1="283.2" y1="237.5" x2="301.9" y2="237.5" stroke="#000" stroke-width="0.8" stroke-linecap="butt"/>
<line x1="317.9" y1="237.5" x2="336.7" y2="237.5" stroke="#000" stroke-width="0.8" stroke-linecap="butt"/>
<polygon points="283.2,237.5 286.2,236.5 286.2,238.5" fill="#000"/>
<polygon points="336.7,237.5 333.7,238.5 333.7,236.5" fill="#000"/>
<text x="309.9" y="239.8" font-family="Liberation Sans" font-size="6.5" text-anchor="middle" fill="#000">48"</text>
<line x1="336.7" y1="237.5" x2="350.4" y2="237.5" stroke="#000" stroke-width="0.8" stroke-linecap="butt"/>
<line x1="366.4" y1="237.5" x2="380.2" y2="237.5" stroke="#000" stroke-width="0.8" stroke-linecap="butt"/>
<polygon points="336.7,237.5 339.7,236.5 339.7,238.5" fill="#000"/>
<polygon points="380.2,237.5 377.2,238.5 377.2,236.5" fill="#000"/>
<text x="358.4" y="239.8" font-family="Liberation Sans" font-size="6.5" text-anchor="middle" fill="#000">39"</text>
<line x1="380.2" y1="237.5" x2="394.2" y2="237.5" stroke="#000" stroke-width="0.8" stroke-linecap="butt"/>
<line x1="410.2" y1="237.5" x2="424.3" y2="237.5" stroke="#000" stroke-width="0.8" stroke-linecap="butt"/>
<polygon points="380.2,237.5 383.2,236.5 383.2,238.5" fill="#000"/>
<polygon points="424.3,237.5 421.3,238.5 421.3,236.5" fill="#000"/>
<text x="402.2" y="239.8" font-family="Liberation Sans" font-size="6.5" text-anchor="middle" fill="#000">39"</text>
<line x1="424.3" y1="237.5" x2="438.1" y2="237.5" stroke="#000" stroke-width="0.8" stroke-linecap="butt"/>
<line x1="454.1" y1="237.5" x2="468.0" y2="237.5" stroke="#000" stroke-width="0.8" stroke-linecap="butt"/>
<polygon points="424.3,237.5 427.3,236.5 427.3,238.5" fill="#000"/>
<polygon points="468.0,237.5 465.0,238.5 465.0,236.5" fill="#000"/>
<text x="446.1" y="239.8" font-family="Liberation Sans" font-size="6.5" text-anchor="middle" fill="#000">39"</text>
<g transform="translate(439.4,247.3) rotate(47)"><rect x="0" y="0" width="28" height="37" stroke="#000" stroke-width="1.0" fill="#fff"/><line x1="25.5" y1="0" x2="25.5" y2="37" stroke="#000" stroke-width="0.8"/><line x1="2" y1="0" x2="2" y2="37" stroke="#000" stroke-width="0.5"/><rect x="6" y="9" width="16" height="19" rx="4" stroke="#000" stroke-width="1.8" fill="none"/><line x1="6" y1="18.5" x2="22" y2="18.5" stroke="#000" stroke-width="1"/></g>
<path d="M429.5,290.5 L429.5,303 Q430.5,307.5 436,306.5 L459.5,289 Q463,281 457,271.5" stroke="#000" stroke-width="1.2" fill="none"/>
<line x1="424.3" y1="258.0" x2="424.3" y2="288.0" stroke="#000" stroke-width="0.8" stroke-linecap="butt"/>
<rect x="294.0" y="258.0" width="40.0" height="29.6" stroke="#000" stroke-width="0.9" fill="#fff"/>
<rect x="295.8" y="259.8" width="36.4" height="27.8" stroke="#000" stroke-width="0.6" fill="none"/>
<rect x="301.0" y="264.0" width="26.0" height="19.2" stroke="#000" stroke-width="1.8" fill="none" rx="3"/>
<line x1="314.0" y1="264.0" x2="314.0" y2="283.2" stroke="#000" stroke-width="1.4400000000000002" stroke-linecap="butt"/>
<rect x="328.0" y="270.0" width="3.5" height="8.0" fill="#000"/>
<polygon points="308.0,264.0 307.0,262.0 309.0,262.0" fill="#000"/>
<rect x="337.7" y="258.0" width="39.5" height="29.6" stroke="#000" stroke-width="0.9" fill="#fff"/>
<rect x="339.5" y="259.8" width="35.9" height="27.8" stroke="#000" stroke-width="0.6" fill="none"/>
<rect x="344.7" y="264.0" width="26.0" height="19.2" stroke="#000" stroke-width="1.8" fill="none" rx="3"/>
<line x1="357.7" y1="264.0" x2="357.7" y2="283.2" stroke="#000" stroke-width="1.4400000000000002" stroke-linecap="butt"/>
<rect x="371.2" y="270.0" width="3.5" height="8.0" fill="#000"/>
<polygon points="351.4,264.0 350.4,262.0 352.4,262.0" fill="#000"/>
<rect x="381.2" y="258.0" width="40.1" height="29.6" stroke="#000" stroke-width="0.9" fill="#fff"/>
<rect x="383.0" y="259.8" width="36.5" height="27.8" stroke="#000" stroke-width="0.6" fill="none"/>
<rect x="388.2" y="264.0" width="26.0" height="19.2" stroke="#000" stroke-width="1.8" fill="none" rx="3"/>
<line x1="401.2" y1="264.0" x2="401.2" y2="283.2" stroke="#000" stroke-width="1.4400000000000002" stroke-linecap="butt"/>
<rect x="415.3" y="270.0" width="3.5" height="8.0" fill="#000"/>
<polygon points="395.2,264.0 394.2,262.0 396.2,262.0" fill="#000"/>
<rect x="285.8" y="287.7" width="124.5" height="14.3" stroke="#000" stroke-width="0.9" fill="none" rx="1.5"/>
<text x="362.0" y="298.8" font-family="Liberation Sans" font-size="7" text-anchor="middle" textLength="46.0" lengthAdjust="spacing" fill="#000">18" MANGER</text>
<text x="361.5" y="308.3" font-family="Liberation Sans" font-size="7" text-anchor="middle" textLength="38.5" lengthAdjust="spacing" fill="#000">ASSEMBLY</text>
<line x1="270.0" y1="309.4" x2="414.3" y2="309.4" stroke="#000" stroke-width="1.3" stroke-linecap="butt"/>
<rect x="271.0" y="306.5" width="2.0" height="5.0" fill="#000"/>
<rect x="277.0" y="306.5" width="2.0" height="5.0" fill="#000"/>
<rect x="284.0" y="306.5" width="2.0" height="5.0" fill="#000"/>
<rect x="295.0" y="306.5" width="2.0" height="5.0" fill="#000"/>
<rect x="301.0" y="306.5" width="2.0" height="5.0" fill="#000"/>
<rect x="311.0" y="306.5" width="2.0" height="5.0" fill="#000"/>
<rect x="319.0" y="306.5" width="2.0" height="5.0" fill="#000"/>
<rect x="332.0" y="306.5" width="2.0" height="5.0" fill="#000"/>
<rect x="339.0" y="306.5" width="2.0" height="5.0" fill="#000"/>
<rect x="351.0" y="306.5" width="2.0" height="5.0" fill="#000"/>
<rect x="357.0" y="306.5" width="2.0" height="5.0" fill="#000"/>
<rect x="369.0" y="306.5" width="2.0" height="5.0" fill="#000"/>
<rect x="382.0" y="306.5" width="2.0" height="5.0" fill="#000"/>
<rect x="391.0" y="306.5" width="2.0" height="5.0" fill="#000"/>
<rect x="397.0" y="306.5" width="2.0" height="5.0" fill="#000"/>
<rect x="404.0" y="306.5" width="2.0" height="5.0" fill="#000"/>
<circle cx="285.0" cy="310.0" r="1.8" fill="#000"/>
<circle cx="313.0" cy="310.0" r="1.8" fill="#000"/>
<circle cx="329.0" cy="310.0" r="1.8" fill="#000"/>
<circle cx="357.0" cy="310.0" r="1.8" fill="#000"/>
<circle cx="384.0" cy="310.0" r="1.8" fill="#000"/>
<circle cx="400.0" cy="310.0" r="1.8" fill="#000"/>
<circle cx="296.0" cy="292.5" r="1.7" fill="#000"/>
<circle cx="336.0" cy="292.5" r="1.7" fill="#000"/>
<circle cx="340.0" cy="292.5" r="1.7" fill="#000"/>
<circle cx="380.0" cy="292.5" r="1.7" fill="#000"/>
<circle cx="385.0" cy="292.5" r="1.7" fill="#000"/>
<circle cx="423.0" cy="292.5" r="1.7" fill="#000"/>
<circle cx="294.0" cy="300.0" r="1.7" fill="#000"/>
<circle cx="300.0" cy="305.0" r="1.7" fill="#000"/>
<circle cx="286.0" cy="396.5" r="1.7" fill="#000"/>
<circle cx="290.0" cy="396.5" r="1.7" fill="#000"/>
<circle cx="328.0" cy="396.5" r="1.7" fill="#000"/>
<circle cx="333.0" cy="396.5" r="1.7" fill="#000"/>
<circle cx="372.0" cy="396.5" r="1.7" fill="#000"/>
<circle cx="375.0" cy="396.5" r="1.7" fill="#000"/>
<circle cx="411.0" cy="396.5" r="1.7" fill="#000"/>
<circle cx="452.0" cy="395.0" r="1.7" fill="#000"/>
<circle cx="210.0" cy="396.5" r="1.7" fill="#000"/>
<circle cx="248.0" cy="397.0" r="1.7" fill="#000"/>
<line x1="336.1" y1="288.0" x2="286.0" y2="396.2" stroke="#000" stroke-width="0.9" stroke-linecap="butt"/>
<line x1="380.2" y1="288.0" x2="328.1" y2="396.0" stroke="#000" stroke-width="0.9" stroke-linecap="butt"/>
<line x1="423.3" y1="288.0" x2="372.2" y2="396.0" stroke="#000" stroke-width="0.9" stroke-linecap="butt"/>
<line x1="467.4" y1="291.0" x2="411.3" y2="396.5" stroke="#000" stroke-width="0.9" stroke-linecap="butt"/>
<line x1="470.2" y1="291.0" x2="414.1" y2="396.5" stroke="#000" stroke-width="0.9" stroke-linecap="butt"/>
<line x1="280.3" y1="292.0" x2="228.9" y2="397.5" stroke="#000" stroke-width="0.8" stroke-linecap="butt"/>
<line x1="282.7" y1="292.0" x2="231.3" y2="397.5" stroke="#000" stroke-width="0.8" stroke-linecap="butt"/>
<line x1="280.5" y1="292.6" x2="282.5" y2="291.4" stroke="#000" stroke-width="0.6" stroke-linecap="butt"/>
<line x1="278.7" y1="296.2" x2="280.7" y2="295.0" stroke="#000" stroke-width="0.6" stroke-linecap="butt"/>
<line x1="277.0" y1="299.9" x2="279.0" y2="298.7" stroke="#000" stroke-width="0.6" stroke-linecap="butt"/>
<line x1="275.2" y1="303.5" x2="277.2" y2="302.3" stroke="#000" stroke-width="0.6" stroke-linecap="butt"/>
<line x1="273.4" y1="307.2" x2="275.4" y2="306.0" stroke="#000" stroke-width="0.6" stroke-linecap="butt"/>
<line x1="271.6" y1="310.8" x2="273.6" y2="309.6" stroke="#000" stroke-width="0.6" stroke-linecap="butt"/>
<line x1="269.9" y1="314.4" x2="271.9" y2="313.2" stroke="#000" stroke-width="0.6" stroke-linecap="butt"/>
<line x1="268.1" y1="318.1" x2="270.1" y2="316.9" stroke="#000" stroke-width="0.6" stroke-linecap="butt"/>
<line x1="266.3" y1="321.7" x2="268.3" y2="320.5" stroke="#000" stroke-width="0.6" stroke-linecap="butt"/>
<line x1="264.5" y1="325.3" x2="266.5" y2="324.1" stroke="#000" stroke-width="0.6" stroke-linecap="butt"/>
<line x1="262.8" y1="329.0" x2="264.8" y2="327.8" stroke="#000" stroke-width="0.6" stroke-linecap="butt"/>
<line x1="261.0" y1="332.6" x2="263.0" y2="331.4" stroke="#000" stroke-width="0.6" stroke-linecap="butt"/>
<line x1="259.2" y1="336.3" x2="261.2" y2="335.1" stroke="#000" stroke-width="0.6" stroke-linecap="butt"/>
<line x1="257.5" y1="339.9" x2="259.5" y2="338.7" stroke="#000" stroke-width="0.6" stroke-linecap="butt"/>
<line x1="255.7" y1="343.5" x2="257.7" y2="342.3" stroke="#000" stroke-width="0.6" stroke-linecap="butt"/>
<line x1="253.9" y1="347.2" x2="255.9" y2="346.0" stroke="#000" stroke-width="0.6" stroke-linecap="butt"/>
<line x1="252.1" y1="350.8" x2="254.1" y2="349.6" stroke="#000" stroke-width="0.6" stroke-linecap="butt"/>
<line x1="250.4" y1="354.4" x2="252.4" y2="353.2" stroke="#000" stroke-width="0.6" stroke-linecap="butt"/>
<line x1="248.6" y1="358.1" x2="250.6" y2="356.9" stroke="#000" stroke-width="0.6" stroke-linecap="butt"/>
<line x1="246.8" y1="361.7" x2="248.8" y2="360.5" stroke="#000" stroke-width="0.6" stroke-linecap="butt"/>
<line x1="245.1" y1="365.4" x2="247.1" y2="364.2" stroke="#000" stroke-width="0.6" stroke-linecap="butt"/>
<line x1="243.3" y1="369.0" x2="245.3" y2="367.8" stroke="#000" stroke-width="0.6" stroke-linecap="butt"/>
<line x1="241.5" y1="372.6" x2="243.5" y2="371.4" stroke="#000" stroke-width="0.6" stroke-linecap="butt"/>
<line x1="239.7" y1="376.3" x2="241.7" y2="375.1" stroke="#000" stroke-width="0.6" stroke-linecap="butt"/>
<line x1="238.0" y1="379.9" x2="240.0" y2="378.7" stroke="#000" stroke-width="0.6" stroke-linecap="butt"/>
<line x1="236.2" y1="383.5" x2="238.2" y2="382.3" stroke="#000" stroke-width="0.6" stroke-linecap="butt"/>
<line x1="234.4" y1="387.2" x2="236.4" y2="386.0" stroke="#000" stroke-width="0.6" stroke-linecap="butt"/>
<line x1="232.6" y1="390.8" x2="234.6" y2="389.6" stroke="#000" stroke-width="0.6" stroke-linecap="butt"/>
<line x1="230.9" y1="394.5" x2="232.9" y2="393.3" stroke="#000" stroke-width="0.6" stroke-linecap="butt"/>
<line x1="229.1" y1="398.1" x2="231.1" y2="396.9" stroke="#000" stroke-width="0.6" stroke-linecap="butt"/>
<line x1="265.8" y1="292.0" x2="227.3" y2="370.0" stroke="#000" stroke-width="0.8" stroke-linecap="butt"/>
<line x1="268.2" y1="292.0" x2="229.7" y2="370.0" stroke="#000" stroke-width="0.8" stroke-linecap="butt"/>
<line x1="266.0" y1="292.6" x2="268.0" y2="291.4" stroke="#000" stroke-width="0.6" stroke-linecap="butt"/>
<line x1="264.3" y1="296.0" x2="266.3" y2="294.8" stroke="#000" stroke-width="0.6" stroke-linecap="butt"/>
<line x1="262.7" y1="299.4" x2="264.7" y2="298.2" stroke="#000" stroke-width="0.6" stroke-linecap="butt"/>
<line x1="261.0" y1="302.8" x2="263.0" y2="301.6" stroke="#000" stroke-width="0.6" stroke-linecap="butt"/>
<line x1="259.3" y1="306.2" x2="261.3" y2="305.0" stroke="#000" stroke-width="0.6" stroke-linecap="butt"/>
<line x1="257.6" y1="309.6" x2="259.6" y2="308.4" stroke="#000" stroke-width="0.6" stroke-linecap="butt"/>
<line x1="256.0" y1="312.9" x2="258.0" y2="311.7" stroke="#000" stroke-width="0.6" stroke-linecap="butt"/>
<line x1="254.3" y1="316.3" x2="256.3" y2="315.1" stroke="#000" stroke-width="0.6" stroke-linecap="butt"/>
<line x1="252.6" y1="319.7" x2="254.6" y2="318.5" stroke="#000" stroke-width="0.6" stroke-linecap="butt"/>
<line x1="250.9" y1="323.1" x2="252.9" y2="321.9" stroke="#000" stroke-width="0.6" stroke-linecap="butt"/>
<line x1="249.3" y1="326.5" x2="251.3" y2="325.3" stroke="#000" stroke-width="0.6" stroke-linecap="butt"/>
<line x1="247.6" y1="329.9" x2="249.6" y2="328.7" stroke="#000" stroke-width="0.6" stroke-linecap="butt"/>
<line x1="245.9" y1="333.3" x2="247.9" y2="332.1" stroke="#000" stroke-width="0.6" stroke-linecap="butt"/>
<line x1="244.2" y1="336.7" x2="246.2" y2="335.5" stroke="#000" stroke-width="0.6" stroke-linecap="butt"/>
<line x1="242.6" y1="340.1" x2="244.6" y2="338.9" stroke="#000" stroke-width="0.6" stroke-linecap="butt"/>
<line x1="240.9" y1="343.5" x2="242.9" y2="342.3" stroke="#000" stroke-width="0.6" stroke-linecap="butt"/>
<line x1="239.2" y1="346.9" x2="241.2" y2="345.7" stroke="#000" stroke-width="0.6" stroke-linecap="butt"/>
<line x1="237.5" y1="350.3" x2="239.5" y2="349.1" stroke="#000" stroke-width="0.6" stroke-linecap="butt"/>
<line x1="235.9" y1="353.6" x2="237.9" y2="352.4" stroke="#000" stroke-width="0.6" stroke-linecap="butt"/>
<line x1="234.2" y1="357.0" x2="236.2" y2="355.8" stroke="#000" stroke-width="0.6" stroke-linecap="butt"/>
<line x1="232.5" y1="360.4" x2="234.5" y2="359.2" stroke="#000" stroke-width="0.6" stroke-linecap="butt"/>
<line x1="230.8" y1="363.8" x2="232.8" y2="362.6" stroke="#000" stroke-width="0.6" stroke-linecap="butt"/>
<line x1="229.2" y1="367.2" x2="231.2" y2="366.0" stroke="#000" stroke-width="0.6" stroke-linecap="butt"/>
<line x1="227.5" y1="370.6" x2="229.5" y2="369.4" stroke="#000" stroke-width="0.6" stroke-linecap="butt"/>
<rect x="263.7" y="318.8" width="3.6" height="2.4" fill="#000" transform="rotate(-40 265.5 320.0)"/>
<rect x="261.8" y="322.2" width="3.6" height="2.4" fill="#000" transform="rotate(-40 263.6 323.4)"/>
<rect x="260.0" y="325.5" width="3.6" height="2.4" fill="#000" transform="rotate(-40 261.8 326.7)"/>
<rect x="258.1" y="328.9" width="3.6" height="2.4" fill="#000" transform="rotate(-40 259.9 330.1)"/>
<rect x="256.3" y="332.2" width="3.6" height="2.4" fill="#000" transform="rotate(-40 258.1 333.4)"/>
<rect x="254.4" y="335.6" width="3.6" height="2.4" fill="#000" transform="rotate(-40 256.2 336.8)"/>
<rect x="252.6" y="338.9" width="3.6" height="2.4" fill="#000" transform="rotate(-40 254.4 340.1)"/>
<rect x="250.7" y="342.3" width="3.6" height="2.4" fill="#000" transform="rotate(-40 252.5 343.5)"/>
<rect x="248.8" y="345.7" width="3.6" height="2.4" fill="#000" transform="rotate(-40 250.6 346.9)"/>
<rect x="247.0" y="349.0" width="3.6" height="2.4" fill="#000" transform="rotate(-40 248.8 350.2)"/>
<rect x="245.1" y="352.4" width="3.6" height="2.4" fill="#000" transform="rotate(-40 246.9 353.6)"/>
<rect x="243.3" y="355.7" width="3.6" height="2.4" fill="#000" transform="rotate(-40 245.1 356.9)"/>
<rect x="241.4" y="359.1" width="3.6" height="2.4" fill="#000" transform="rotate(-40 243.2 360.3)"/>
<rect x="239.6" y="362.4" width="3.6" height="2.4" fill="#000" transform="rotate(-40 241.4 363.6)"/>
<rect x="237.7" y="365.8" width="3.6" height="2.4" fill="#000" transform="rotate(-40 239.5 367.0)"/>
<line x1="255.4" y1="292.0" x2="219.3" y2="373.0" stroke="#000" stroke-width="0.9" stroke-linecap="butt"/>
<text x="308.0" y="342.2" font-family="Liberation Sans" font-size="6.2" text-anchor="middle" textLength="26.0" lengthAdjust="spacingAndGlyphs" transform="rotate(-65 308.0 340.0)" fill="#000">BAR TYPE</text>
<text x="317.0" y="346.2" font-family="Liberation Sans" font-size="6.2" text-anchor="middle" textLength="62.0" lengthAdjust="spacingAndGlyphs" transform="rotate(-65 317.0 344.0)" fill="#000">BREAK-OVER DIVIDER</text>
<text x="350.0" y="342.2" font-family="Liberation Sans" font-size="6.2" text-anchor="middle" textLength="26.0" lengthAdjust="spacingAndGlyphs" transform="rotate(-65 350.0 340.0)" fill="#000">BAR TYPE</text>
<text x="359.0" y="347.2" font-family="Liberation Sans" font-size="6.2" text-anchor="middle" textLength="52.0" lengthAdjust="spacing" transform="rotate(-65 359.0 345.0)" fill="#000">PARTIAL DIVIDER</text>
<text x="394.0" y="344.2" font-family="Liberation Sans" font-size="6.2" text-anchor="middle" textLength="26.0" lengthAdjust="spacingAndGlyphs" transform="rotate(-65 394.0 342.0)" fill="#000">BAR TYPE</text>
<text x="403.0" y="348.2" font-family="Liberation Sans" font-size="6.2" text-anchor="middle" textLength="40.0" lengthAdjust="spacingAndGlyphs" transform="rotate(-65 403.0 346.0)" fill="#000">FULL DIVIDER</text>
<text x="348.0" y="382.9" font-family="Liberation Sans" font-size="4.8" font-weight="bold" text-anchor="middle" textLength="110.0" lengthAdjust="spacing" fill="#000">HINT &amp; INSERT AFT STALL AREA w/ .050</text>
<rect x="285.0" y="386.2" width="125.3" height="10.0" stroke="#000" stroke-width="0.8" fill="none"/>
<text x="348.0" y="392.2" font-family="Liberation Sans" font-size="4.8" font-weight="bold" text-anchor="middle" textLength="95.0" lengthAdjust="spacing" fill="#000">WHITE SHEETS &amp; TOP RAIL CAPPING</text>
<line x1="421.0" y1="326.0" x2="430.0" y2="356.0" stroke="#000" stroke-width="1.0" stroke-linecap="butt"/>
<line x1="424.0" y1="325.0" x2="432.0" y2="355.0" stroke="#000" stroke-width="1.0" stroke-linecap="butt"/>
<line x1="418.0" y1="352.0" x2="450.0" y2="352.0" stroke="#000" stroke-width="0.6" stroke-linecap="butt"/>
<line x1="430.0" y1="355.0" x2="455.0" y2="372.0" stroke="#000" stroke-width="0.7" stroke-linecap="butt"/>
<line x1="442.0" y1="336.0" x2="462.0" y2="350.0" stroke="#000" stroke-width="0.7" stroke-linecap="butt"/>
<circle cx="431.0" cy="356.0" r="2.2" fill="#000"/>
<text x="444.3" y="356.4" font-family="Liberation Sans" font-size="6.5" text-anchor="middle" fill="#000">22"</text>
<text x="446.4" y="365.5" font-family="Liberation Sans" font-size="6.5" text-anchor="middle" textLength="19.0" lengthAdjust="spacingAndGlyphs" fill="#000">DOOR</text>
<text x="429.3" y="383.5" font-family="Liberation Sans" font-size="6.5" text-anchor="middle" fill="#000">29"</text>
<line x1="431.0" y1="358.0" x2="431.0" y2="396.0" stroke="#000" stroke-width="0.7" stroke-linecap="butt"/>
<rect x="201.0" y="292.5" width="2.2" height="2.7" stroke="#000" stroke-width="0.6" fill="none"/>
<rect x="205.1" y="292.5" width="2.2" height="2.7" stroke="#000" stroke-width="0.6" fill="none"/>
<rect x="209.2" y="292.5" width="2.2" height="2.7" stroke="#000" stroke-width="0.6" fill="none"/>
<rect x="213.3" y="292.5" width="2.2" height="2.7" stroke="#000" stroke-width="0.6" fill="none"/>
<rect x="217.4" y="292.5" width="2.2" height="2.7" stroke="#000" stroke-width="0.6" fill="none"/>
<rect x="221.5" y="292.5" width="2.2" height="2.7" stroke="#000" stroke-width="0.6" fill="none"/>
<rect x="225.6" y="292.5" width="2.2" height="2.7" stroke="#000" stroke-width="0.6" fill="none"/>
<rect x="229.7" y="292.5" width="2.2" height="2.7" stroke="#000" stroke-width="0.6" fill="none"/>
<rect x="233.8" y="292.5" width="2.2" height="2.7" stroke="#000" stroke-width="0.6" fill="none"/>
<rect x="237.9" y="292.5" width="2.2" height="2.7" stroke="#000" stroke-width="0.6" fill="none"/>
<rect x="242.0" y="292.5" width="2.2" height="2.7" stroke="#000" stroke-width="0.6" fill="none"/>
<rect x="246.1" y="292.5" width="2.2" height="2.7" stroke="#000" stroke-width="0.6" fill="none"/>
<rect x="250.2" y="292.5" width="2.2" height="2.7" stroke="#000" stroke-width="0.6" fill="none"/>
<rect x="254.3" y="292.5" width="2.2" height="2.7" stroke="#000" stroke-width="0.6" fill="none"/>
<rect x="220.5" y="291.0" width="2.4" height="7.0" fill="#000"/>
<rect x="235.0" y="291.0" width="2.4" height="7.0" fill="#000"/>
<rect x="251.0" y="291.0" width="2.4" height="7.0" fill="#000"/>
<rect x="261.8" y="291.0" width="2.4" height="7.0" fill="#000"/>
<ellipse cx="228.4" cy="310" rx="11.5" ry="4.2" fill="#000"/>
<ellipse cx="215" cy="351" rx="12.5" ry="4.8" fill="#000"/>
<rect x="226.0" y="314.0" width="4.0" height="4.0" stroke="#000" stroke-width="0.6" fill="none"/>
<text x="218.0" y="328.9" font-family="Liberation Sans" font-size="4.5" font-weight="bold" text-anchor="middle" textLength="27.0" lengthAdjust="spacingAndGlyphs" fill="#000">GREY RUBBER</text>
<text x="218.0" y="338.4" font-family="Liberation Sans" font-size="4.5" font-weight="bold" text-anchor="middle" textLength="35.0" lengthAdjust="spacingAndGlyphs" fill="#000">TREAD FLOORING</text>
<line x1="230.0" y1="313.0" x2="252.0" y2="313.0" stroke="#000" stroke-width="0.7" stroke-linecap="butt"/>
<line x1="230.0" y1="318.0" x2="252.0" y2="318.0" stroke="#000" stroke-width="0.7" stroke-linecap="butt"/>
<line x1="230.0" y1="323.0" x2="252.0" y2="323.0" stroke="#000" stroke-width="0.7" stroke-linecap="butt"/>
<line x1="224.0" y1="343.0" x2="243.0" y2="343.0" stroke="#000" stroke-width="0.7" stroke-linecap="butt"/>
<line x1="224.0" y1="348.0" x2="243.0" y2="348.0" stroke="#000" stroke-width="0.7" stroke-linecap="butt"/>
<line x1="224.0" y1="352.0" x2="243.0" y2="352.0" stroke="#000" stroke-width="0.7" stroke-linecap="butt"/>
<rect x="214.0" y="341.0" width="5.0" height="3.0" stroke="#000" stroke-width="0.5" fill="none"/>
<line x1="206.0" y1="362.0" x2="206.0" y2="372.0" stroke="#000" stroke-width="1.0" stroke-linecap="butt"/>
<line x1="214.0" y1="362.0" x2="214.0" y2="372.0" stroke="#000" stroke-width="1.0" stroke-linecap="butt"/>
<line x1="222.0" y1="362.0" x2="222.0" y2="372.0" stroke="#000" stroke-width="1.0" stroke-linecap="butt"/>
<line x1="181.0" y1="374.0" x2="196.0" y2="377.0" stroke="#000" stroke-width="0.9" stroke-linecap="butt"/>
<path d="M182.7,368 Q182,372 186,374 L196,377" stroke="#000" stroke-width="0.9" fill="none"/>
<line x1="196.0" y1="373.0" x2="234.5" y2="373.0" stroke="#000" stroke-width="0.9" stroke-linecap="butt" stroke-dasharray="5,2"/>
<rect x="183.0" y="386.0" width="13.0" height="5.0" stroke="#000" stroke-width="0.7" fill="none"/>
<text x="270.3" y="359.3" font-family="Liberation Sans" font-size="7" text-anchor="middle" textLength="19.0" lengthAdjust="spacingAndGlyphs" fill="#000">WERM</text>
<text x="271.0" y="370.8" font-family="Liberation Sans" font-size="7" text-anchor="middle" textLength="38.0" lengthAdjust="spacing" fill="#000">FLOORING</text>
<line x1="238.0" y1="378.5" x2="245.0" y2="378.5" stroke="#000" stroke-width="0.7" stroke-linecap="butt"/>
<line x1="267.0" y1="378.5" x2="286.0" y2="378.5" stroke="#000" stroke-width="0.7" stroke-linecap="butt"/>
<text x="256.0" y="381.1" font-family="Liberation Sans" font-size="6.5" text-anchor="middle" textLength="22.0" lengthAdjust="spacing" fill="#000">38-3/4"</text>
<text x="256.0" y="390.3" font-family="Liberation Sans" font-size="6.5" text-anchor="middle" textLength="20.0" lengthAdjust="spacing" fill="#000">DOOR</text>
<line x1="237.5" y1="372.0" x2="237.5" y2="396.0" stroke="#000" stroke-width="0.7" stroke-linecap="butt"/>
<line x1="286.0" y1="372.0" x2="286.0" y2="396.0" stroke="#000" stroke-width="0.7" stroke-linecap="butt"/>
<polygon points="161.4,262.7 189.0,289.5 184.0,297.0 156.8,271.0" stroke="#000" stroke-width="1.0" fill="none"/>
<line x1="159.5" y1="265.5" x2="186.5" y2="292.0" stroke="#000" stroke-width="0.5" stroke-linecap="butt"/>
<line x1="165.0" y1="269.5" x2="185.0" y2="288.5" stroke="#000" stroke-width="2.2" stroke-linecap="butt"/>
<circle cx="158.3" cy="272.3" r="1.3" fill="#000"/>
<circle cx="188.0" cy="289.0" r="1.4" fill="#000"/>
<circle cx="192.0" cy="291.0" r="1.4" fill="#000"/>
<circle cx="196.0" cy="289.5" r="1.4" fill="#000"/>
<circle cx="194.0" cy="294.0" r="1.4" fill="#000"/>
<circle cx="199.0" cy="293.0" r="1.4" fill="#000"/>
<circle cx="190.0" cy="296.0" r="1.4" fill="#000"/>
<polyline points="183.0,296.5 186.0,299.0 196.0,299.0" stroke="#000" stroke-width="1.0" fill="none"/>
<line x1="162.0" y1="425.0" x2="198.0" y2="396.0" stroke="#000" stroke-width="1.0" stroke-linecap="butt"/>
<line x1="168.0" y1="427.0" x2="198.0" y2="402.0" stroke="#000" stroke-width="1.0" stroke-linecap="butt"/>
<line x1="171.0" y1="420.0" x2="190.0" y2="404.0" stroke="#000" stroke-width="2.2" stroke-linecap="butt"/>
<line x1="188.0" y1="420.0" x2="197.0" y2="396.0" stroke="#000" stroke-width="1.0" stroke-linecap="butt"/>
<circle cx="176.0" cy="419.0" r="1.1" fill="#000"/>
<circle cx="179.0" cy="416.0" r="1.1" fill="#000"/>
<circle cx="182.0" cy="413.0" r="1.1" fill="#000"/>
<circle cx="185.0" cy="410.0" r="1.1" fill="#000"/>
<circle cx="188.0" cy="407.0" r="1.1" fill="#000"/>
<circle cx="191.0" cy="404.0" r="1.1" fill="#000"/>
<line x1="104.3" y1="287.6" x2="126.0" y2="287.6" stroke="#000" stroke-width="1.0" stroke-linecap="butt"/>
<line x1="116.7" y1="289.0" x2="116.7" y2="400.0" stroke="#000" stroke-width="0.8" stroke-linecap="butt"/>
<polygon points="116.7,289.0 117.7,292.0 115.7,292.0" fill="#000"/>
<polygon points="116.7,400.0 115.7,397.0 117.7,397.0" fill="#000"/>
<line x1="138.7" y1="291.0" x2="138.7" y2="397.0" stroke="#000" stroke-width="0.8" stroke-linecap="butt"/>
<polygon points="138.7,291.0 139.7,294.0 137.7,294.0" fill="#000"/>
<polygon points="138.7,397.0 137.7,394.0 139.7,394.0" fill="#000"/>
<line x1="160.6" y1="291.0" x2="160.6" y2="344.4" stroke="#000" stroke-width="0.8" stroke-linecap="butt"/>
<polygon points="160.6,291.0 161.6,294.0 159.6,294.0" fill="#000"/>
<polygon points="160.6,344.4 159.6,341.4 161.6,341.4" fill="#000"/>
<line x1="160.6" y1="344.4" x2="160.6" y2="397.0" stroke="#000" stroke-width="0.8" stroke-linecap="butt"/>
<polygon points="160.6,344.4 161.6,347.4 159.6,347.4" fill="#000"/>
<polygon points="160.6,397.0 159.6,394.0 161.6,394.0" fill="#000"/>
<rect x="113.7" y="312.0" width="6.0" height="65.0" fill="#fff"/>
<rect x="135.7" y="324.0" width="6.0" height="42.0" fill="#fff"/>
<rect x="157.6" y="308.0" width="6.0" height="22.0" fill="#fff"/>
<rect x="157.6" y="358.0" width="6.0" height="24.0" fill="#fff"/>
<text x="116.7" y="347.5" font-family="Liberation Sans" font-size="7" text-anchor="middle" textLength="62.0" lengthAdjust="spacing" transform="rotate(-90 116.7 345.0)" fill="#000">8'-3-1/2" O.A.W.</text>
<text x="138.7" y="347.5" font-family="Liberation Sans" font-size="7" text-anchor="middle" textLength="38.0" lengthAdjust="spacing" transform="rotate(-90 138.7 345.0)" fill="#000">8'-0" WIDE</text>
<text x="160.6" y="321.5" font-family="Liberation Sans" font-size="7" text-anchor="middle" textLength="19.0" lengthAdjust="spacing" transform="rotate(-90 160.6 319.0)" fill="#000">4'-0"</text>
<text x="160.6" y="372.5" font-family="Liberation Sans" font-size="7" text-anchor="middle" textLength="19.0" lengthAdjust="spacing" transform="rotate(-90 160.6 370.0)" fill="#000">4'-0"</text>
<line x1="148.2" y1="344.4" x2="196.0" y2="344.4" stroke="#000" stroke-width="0.9" stroke-linecap="butt"/>
<circle cx="196.0" cy="344.4" r="1.5" fill="#000"/>
<text x="77.4" y="225.0" font-family="Liberation Sans" font-size="7" text-anchor="start" textLength="80.2" lengthAdjust="spacing" fill="#000">CARPET ALL WALLS &amp;</text>
<text x="76.0" y="236.8" font-family="Liberation Sans" font-size="7" text-anchor="start" textLength="82.4" lengthAdjust="spacing" fill="#000">DOORS IN REAR TACK</text>
<polyline points="158.4,234.3 173.0,234.3 211.0,284.5" stroke="#000" stroke-width="0.8" fill="none"/>
<polygon points="211.0,284.5 206.7,281.5 209.3,279.5" fill="#000"/>
<text x="40.8" y="264.3" font-family="Liberation Sans" font-size="7" text-anchor="start" textLength="62.0" lengthAdjust="spacing" fill="#000">OVER LAP LH/RH</text>
<text x="42.7" y="276.3" font-family="Liberation Sans" font-size="7" text-anchor="start" textLength="56.1" lengthAdjust="spacing" fill="#000">SPEC. REQ. #14</text>
<polyline points="100.0,274.0 128.0,274.0 156.0,263.5" stroke="#000" stroke-width="0.8" fill="none"/>
<polygon points="160.3,262.6 155.1,266.2 154.0,262.7" fill="#000"/>
<text x="214.5" y="237.0" font-family="Liberation Sans" font-size="7" text-anchor="start" textLength="50.8" lengthAdjust="spacing" fill="#000">SPECIAL REQ.</text>
<text x="233.7" y="248.3" font-family="Liberation Sans" font-size="7" text-anchor="start" textLength="12.1" lengthAdjust="spacing" fill="#000">#17</text>
<polyline points="247.0,245.0 270.0,245.0 297.8,294.4" stroke="#000" stroke-width="0.8" fill="none"/>
<polygon points="297.8,294.4 293.9,290.9 296.7,289.3" fill="#000"/>
<text x="81.4" y="441.5" font-family="Liberation Sans" font-size="7" text-anchor="start" textLength="70.4" lengthAdjust="spacing" fill="#000">MEDICINE CABINET</text>
<text x="74.4" y="453.3" font-family="Liberation Sans" font-size="7" font-style="italic" text-anchor="start" textLength="86.3" lengthAdjust="spacing" fill="#000">SPEC. REQ. #6,7,8,9&amp;10</text>
<polyline points="161.0,450.8 186.5,450.8 195.9,420.3" stroke="#000" stroke-width="0.8" fill="none"/>
<rect x="285.8" y="401.3" width="39.9" height="25.0" stroke="#000" stroke-width="0.9" fill="none"/>
<rect x="287.6" y="401.3" width="36.3" height="23.2" stroke="#000" stroke-width="0.6" fill="none"/>
<rect x="292.8" y="405.0" width="26.0" height="17.0" stroke="#000" stroke-width="1.8" fill="none" rx="3"/>
<line x1="305.8" y1="405.0" x2="305.8" y2="422.0" stroke="#000" stroke-width="1.4400000000000002" stroke-linecap="butt"/>
<rect x="319.7" y="409.0" width="3.5" height="8.0" fill="#000"/>
<rect x="328.6" y="401.3" width="39.9" height="25.0" stroke="#000" stroke-width="0.9" fill="none"/>
<rect x="330.4" y="401.3" width="36.3" height="23.2" stroke="#000" stroke-width="0.6" fill="none"/>
<rect x="335.6" y="405.0" width="26.0" height="17.0" stroke="#000" stroke-width="1.8" fill="none" rx="3"/>
<line x1="348.6" y1="405.0" x2="348.6" y2="422.0" stroke="#000" stroke-width="1.4400000000000002" stroke-linecap="butt"/>
<rect x="362.5" y="409.0" width="3.5" height="8.0" fill="#000"/>
<rect x="371.0" y="401.3" width="41.7" height="25.0" stroke="#000" stroke-width="0.9" fill="none"/>
<rect x="372.8" y="401.3" width="38.1" height="23.2" stroke="#000" stroke-width="0.6" fill="none"/>
<rect x="378.0" y="405.0" width="26.0" height="17.0" stroke="#000" stroke-width="1.8" fill="none" rx="3"/>
<line x1="391.0" y1="405.0" x2="391.0" y2="422.0" stroke="#000" stroke-width="1.4400000000000002" stroke-linecap="butt"/>
<rect x="406.7" y="409.0" width="3.5" height="8.0" fill="#000"/>
<line x1="282.5" y1="401.0" x2="282.5" y2="426.0" stroke="#000" stroke-width="1.6" stroke-linecap="butt"/>
<line x1="286.0" y1="401.0" x2="286.0" y2="426.0" stroke="#000" stroke-width="1.6" stroke-linecap="butt"/>
<line x1="371.0" y1="428.0" x2="412.7" y2="428.0" stroke="#000" stroke-width="0.8" stroke-linecap="butt"/>
<text x="392.0" y="431.8" font-family="Liberation Sans" font-size="5" text-anchor="middle" fill="#000">39"</text>
<rect x="226" y="403.8" width="29" height="8.7" rx="4.3" stroke="#000" stroke-width="1" fill="#fff"/>
<text x="240.5" y="410.4" font-family="Liberation Sans" font-size="6.5" text-anchor="middle" fill="#000">80"</text>
<rect x="202.4" y="401.3" width="79.8" height="59.4" stroke="#000" stroke-width="0.8" fill="none"/>
<line x1="202.4" y1="455.0" x2="282.2" y2="455.0" stroke="#000" stroke-width="0.6" stroke-linecap="butt"/>
<line x1="205.0" y1="401.3" x2="205.0" y2="460.0" stroke="#000" stroke-width="0.6" stroke-linecap="butt"/>
<g transform="rotate(-52 264 421)"><rect x="248" y="411" width="34" height="20" stroke="#000" stroke-width="1.0" fill="#fff"/><rect x="251" y="414" width="28" height="14" rx="4" stroke="#000" stroke-width="1.6" fill="none"/><line x1="265" y1="414" x2="265" y2="428" stroke="#000" stroke-width="1"/></g>
<line x1="215.0" y1="403.0" x2="215.0" y2="458.0" stroke="#000" stroke-width="0.7" stroke-linecap="butt"/>
<polygon points="215.0,403.0 216.0,406.0 214.0,406.0" fill="#000"/>
<polygon points="215.0,458.0 214.0,455.0 216.0,455.0" fill="#000"/>
<rect x="211.0" y="426.0" width="8.0" height="7.0" fill="#fff"/>
<text x="213.0" y="432.2" font-family="Liberation Sans" font-size="6.5" text-anchor="middle" fill="#000">57"</text>
<text x="242.3" y="446.9" font-family="Liberation Sans" font-size="7" text-anchor="middle" textLength="29.0" lengthAdjust="spacingAndGlyphs" fill="#000">71" WIDE</text>
<text x="242.3" y="456.0" font-family="Liberation Sans" font-size="7" text-anchor="middle" textLength="34.0" lengthAdjust="spacingAndGlyphs" fill="#000">SIDE RAMP</text>
<line x1="202.0" y1="444.4" x2="227.0" y2="444.4" stroke="#000" stroke-width="0.6" stroke-linecap="butt"/>
<line x1="258.0" y1="444.4" x2="282.0" y2="444.4" stroke="#000" stroke-width="0.6" stroke-linecap="butt"/>
<line x1="229.6" y1="470.5" x2="247.9" y2="470.5" stroke="#000" stroke-width="0.8" stroke-linecap="butt"/>
<line x1="263.9" y1="470.5" x2="282.2" y2="470.5" stroke="#000" stroke-width="0.8" stroke-linecap="butt"/>
<polygon points="229.6,470.5 232.6,469.5 232.6,471.5" fill="#000"/>
<polygon points="282.2,470.5 279.2,471.5 279.2,469.5" fill="#000"/>
<text x="255.9" y="472.8" font-family="Liberation Sans" font-size="6.5" text-anchor="middle" fill="#000">48"</text>
<line x1="282.2" y1="470.5" x2="296.3" y2="470.5" stroke="#000" stroke-width="0.8" stroke-linecap="butt"/>
<line x1="312.3" y1="470.5" x2="326.4" y2="470.5" stroke="#000" stroke-width="0.8" stroke-linecap="butt"/>
<polygon points="282.2,470.5 285.2,469.5 285.2,471.5" fill="#000"/>
<polygon points="326.4,470.5 323.4,471.5 323.4,469.5" fill="#000"/>
<text x="304.3" y="472.8" font-family="Liberation Sans" font-size="6.5" text-anchor="middle" fill="#000">39"</text>
<line x1="326.4" y1="470.5" x2="340.2" y2="470.5" stroke="#000" stroke-width="0.8" stroke-linecap="butt"/>
<line x1="356.2" y1="470.5" x2="370.0" y2="470.5" stroke="#000" stroke-width="0.8" stroke-linecap="butt"/>
<polygon points="326.4,470.5 329.4,469.5 329.4,471.5" fill="#000"/>
<polygon points="370.0,470.5 367.0,471.5 367.0,469.5" fill="#000"/>
<text x="348.2" y="472.8" font-family="Liberation Sans" font-size="6.5" text-anchor="middle" fill="#000">39"</text>
<line x1="370.0" y1="470.5" x2="383.9" y2="470.5" stroke="#000" stroke-width="0.8" stroke-linecap="butt"/>
<line x1="399.9" y1="470.5" x2="413.8" y2="470.5" stroke="#000" stroke-width="0.8" stroke-linecap="butt"/>
<polygon points="370.0,470.5 373.0,469.5 373.0,471.5" fill="#000"/>
<polygon points="413.8,470.5 410.8,471.5 410.8,469.5" fill="#000"/>
<text x="391.9" y="472.8" font-family="Liberation Sans" font-size="6.5" text-anchor="middle" fill="#000">39"</text>
<line x1="155.3" y1="492.0" x2="196.2" y2="492.0" stroke="#000" stroke-width="0.8" stroke-linecap="butt"/>
<polygon points="196.2,492.0 193.2,493.0 193.2,491.0" fill="#000"/>
<text x="133.5" y="488.4" font-family="Liberation Sans" font-size="6.5" text-anchor="middle" fill="#000">2'-6"</text>
<text x="133.5" y="499.5" font-family="Liberation Sans" font-size="7" text-anchor="middle" textLength="43.0" lengthAdjust="spacing" fill="#000">REAR TACK</text>
<line x1="196.2" y1="492.0" x2="300.0" y2="492.0" stroke="#000" stroke-width="0.8" stroke-linecap="butt"/>
<line x1="345.0" y1="492.0" x2="530.0" y2="492.0" stroke="#000" stroke-width="0.8" stroke-linecap="butt"/>
<line x1="585.0" y1="492.0" x2="700.3" y2="492.0" stroke="#000" stroke-width="0.8" stroke-linecap="butt"/>
<polygon points="229.6,492.0 226.6,493.0 226.6,491.0" fill="#000"/>
<polygon points="229.6,492.0 232.6,491.0 232.6,493.0" fill="#000"/>
<polygon points="413.8,492.0 410.8,493.0 410.8,491.0" fill="#000"/>
<polygon points="413.8,492.0 416.8,491.0 416.8,493.0" fill="#000"/>
<polygon points="700.3,492.0 697.3,493.0 697.3,491.0" fill="#000"/>
<text x="322.0" y="489.5" font-family="Liberation Sans" font-size="6.5" text-anchor="middle" fill="#000">13'-9"</text>
<text x="322.0" y="500.2" font-family="Liberation Sans" font-size="7" text-anchor="middle" textLength="43.0" lengthAdjust="spacing" fill="#000">STALL AREA</text>
<text x="556.7" y="489.7" font-family="Liberation Sans" font-size="6.5" text-anchor="middle" fill="#000">21'-0"</text>
<text x="558.0" y="499.8" font-family="Liberation Sans" font-size="7" text-anchor="middle" textLength="47.0" lengthAdjust="spacing" fill="#000">FRONT TACK</text>
<line x1="196.2" y1="511.3" x2="404.0" y2="511.3" stroke="#000" stroke-width="0.8" stroke-linecap="butt"/>
<line x1="490.0" y1="511.3" x2="740.0" y2="511.3" stroke="#000" stroke-width="0.8" stroke-linecap="butt"/>
<line x1="781.0" y1="511.3" x2="820.8" y2="511.3" stroke="#000" stroke-width="0.8" stroke-linecap="butt"/>
<polygon points="196.2,511.3 199.2,510.3 199.2,512.3" fill="#000"/>
<polygon points="700.3,511.3 697.3,512.3 697.3,510.3" fill="#000"/>
<polygon points="700.3,511.3 703.3,510.3 703.3,512.3" fill="#000"/>
<polygon points="820.8,511.3 817.8,512.3 817.8,510.3" fill="#000"/>
<text x="406.4" y="513.7" font-family="Liberation Sans" font-size="6.8" text-anchor="start" textLength="81.6" lengthAdjust="spacing" fill="#000">37'-6" FLOOR LENGTH</text>
<text x="760.7" y="513.7" font-family="Liberation Sans" font-size="6.8" text-anchor="middle" textLength="30.0" lengthAdjust="spacing" fill="#000">9'-0" GN</text>
<line x1="486.0" y1="291.0" x2="486.0" y2="398.0" stroke="#000" stroke-width="0.9" stroke-linecap="butt" stroke-dasharray="6,3"/>
<line x1="541.9" y1="218.6" x2="541.9" y2="291.0" stroke="#000" stroke-width="0.9" stroke-linecap="butt"/>
<line x1="541.9" y1="292.0" x2="541.9" y2="398.0" stroke="#000" stroke-width="0.9" stroke-linecap="butt" stroke-dasharray="6,3"/>
<line x1="514.0" y1="391.0" x2="514.0" y2="398.0" stroke="#000" stroke-width="2.2" stroke-linecap="butt"/>
<line x1="514.0" y1="291.0" x2="514.0" y2="398.0" stroke="#000" stroke-width="2.2" stroke-linecap="butt" stroke-dasharray="7,3"/>
<line x1="526.5" y1="218.6" x2="526.5" y2="290.0" stroke="#000" stroke-width="0.9" stroke-linecap="butt"/>
<text x="499.2" y="223.9" font-family="Liberation Sans" font-size="6.8" text-anchor="start" textLength="39.7" lengthAdjust="spacing" fill="#000">13-1/2"W x</text>
<text x="505.4" y="233.4" font-family="Liberation Sans" font-size="6.8" text-anchor="start" textLength="27.3" lengthAdjust="spacing" fill="#000">13 1/2"T</text>
<text x="504.0" y="242.7" font-family="Liberation Sans" font-size="6.8" text-anchor="start" textLength="28.0" lengthAdjust="spacing" fill="#000">10" BOV</text>
<line x1="526.5" y1="230.6" x2="600.0" y2="230.6" stroke="#000" stroke-width="0.8" stroke-linecap="butt"/>
<line x1="643.0" y1="230.6" x2="700.3" y2="230.6" stroke="#000" stroke-width="0.8" stroke-linecap="butt"/>
<polygon points="541.9,230.6 544.9,229.6 544.9,231.6" fill="#000"/>
<polygon points="700.3,230.6 697.3,231.6 697.3,229.6" fill="#000"/>
<text x="621.3" y="233.5" font-family="Liberation Sans" font-size="7" text-anchor="middle" textLength="38.0" lengthAdjust="spacing" fill="#000">141-1/2"</text>
<text x="625.0" y="240.0" font-family="Liberation Sans" font-size="4.5" text-anchor="middle" fill="#000">24x22</text>
<text x="625.0" y="249.6" font-family="Liberation Sans" font-size="5" font-weight="bold" text-anchor="middle" textLength="28.0" lengthAdjust="spacingAndGlyphs" fill="#000">FRAMELESS</text>
<text x="625.0" y="258.3" font-family="Liberation Sans" font-size="5" font-weight="bold" text-anchor="middle" textLength="22.0" lengthAdjust="spacingAndGlyphs" fill="#000">24" DOOR</text>
<rect x="577.3" y="250.8" width="75.5" height="2.0" fill="#000"/>
<line x1="652.8" y1="251.0" x2="674.1" y2="251.0" stroke="#000" stroke-width="0.8" stroke-linecap="butt"/>
<line x1="652.8" y1="252.7" x2="674.1" y2="252.7" stroke="#000" stroke-width="0.8" stroke-linecap="butt"/>
<line x1="577.5" y1="251.0" x2="577.5" y2="290.4" stroke="#000" stroke-width="0.8" stroke-linecap="butt"/>
<line x1="579.5" y1="251.0" x2="579.5" y2="290.4" stroke="#000" stroke-width="0.8" stroke-linecap="butt"/>
<line x1="669.5" y1="251.0" x2="669.5" y2="290.4" stroke="#000" stroke-width="0.8" stroke-linecap="butt"/>
<line x1="671.5" y1="251.0" x2="671.5" y2="290.4" stroke="#000" stroke-width="0.8" stroke-linecap="butt"/>
<rect x="579.5" y="262.0" width="3.0" height="25.0" fill="#000"/>
<rect x="669.5" y="266.7" width="2.8" height="18.7" fill="#000"/>
<text x="626.2" y="274.6" font-family="Liberation Sans" font-size="7.5" text-anchor="middle" textLength="58.0" lengthAdjust="spacingAndGlyphs" fill="#000">78" INSIDE HWH</text>
<line x1="597.0" y1="275.4" x2="654.0" y2="275.4" stroke="#000" stroke-width="0.8" stroke-linecap="butt"/>
<line x1="583.0" y1="271.4" x2="596.0" y2="271.4" stroke="#000" stroke-width="0.8" stroke-linecap="butt"/>
<line x1="657.0" y1="271.4" x2="669.0" y2="271.4" stroke="#000" stroke-width="0.8" stroke-linecap="butt"/>
<text x="560.0" y="273.6" font-family="Liberation Sans" font-size="4.5" font-weight="bold" text-anchor="middle" transform="rotate(90 560.0 272.0)" fill="#000">13 WW</text>
<text x="566.7" y="273.6" font-family="Liberation Sans" font-size="4.5" font-weight="bold" text-anchor="middle" transform="rotate(90 566.7 272.0)" fill="#000">SIDE WIND</text>
<text x="573.3" y="273.6" font-family="Liberation Sans" font-size="4.5" font-weight="bold" text-anchor="middle" transform="rotate(90 573.3 272.0)" fill="#000">BOW x 4</text>
<text x="675.5" y="273.6" font-family="Liberation Sans" font-size="4.5" font-weight="bold" text-anchor="middle" transform="rotate(90 675.5 272.0)" fill="#000">13 WW</text>
<text x="684.8" y="273.6" font-family="Liberation Sans" font-size="4.5" font-weight="bold" text-anchor="middle" transform="rotate(90 684.8 272.0)" fill="#000">SIDE WIND</text>
<text x="693.5" y="273.6" font-family="Liberation Sans" font-size="4.5" font-weight="bold" text-anchor="middle" transform="rotate(90 693.5 272.0)" fill="#000">BOW x 4</text>
<text x="527.0" y="277.6" font-family="Liberation Sans" font-size="4.5" font-weight="bold" text-anchor="middle" fill="#000">22 HS</text>
<text x="527.0" y="286.6" font-family="Liberation Sans" font-size="4.5" font-weight="bold" text-anchor="middle" textLength="26.0" lengthAdjust="spacingAndGlyphs" fill="#000">FRAMELESS</text>
<text x="527.0" y="296.6" font-family="Liberation Sans" font-size="4.5" font-weight="bold" text-anchor="middle" fill="#000">4 BOW</text>
<line x1="524.6" y1="290.8" x2="553.0" y2="290.8" stroke="#000" stroke-width="2.6" stroke-linecap="butt"/>
<line x1="541.9" y1="303.7" x2="611.0" y2="303.7" stroke="#000" stroke-width="0.8" stroke-linecap="butt"/>
<line x1="642.7" y1="303.7" x2="669.5" y2="303.7" stroke="#000" stroke-width="0.8" stroke-linecap="butt"/>
<polygon points="541.9,303.7 544.9,302.7 544.9,304.7" fill="#000"/>
<polygon points="669.5,303.7 666.5,304.7 666.5,302.7" fill="#000"/>
<text x="625.0" y="306.2" font-family="Liberation Sans" font-size="7" text-anchor="middle" textLength="38.0" lengthAdjust="spacing" fill="#000">℄ 141-1/2"</text>
<line x1="669.5" y1="290.4" x2="669.5" y2="307.5" stroke="#000" stroke-width="0.8" stroke-linecap="butt"/>
<text x="684.5" y="298.5" font-family="Liberation Sans" font-size="7" text-anchor="middle" textLength="25.0" lengthAdjust="spacing" fill="#000">27-1/2"</text>
<polygon points="669.5,297.0 672.5,296.0 672.5,298.0" fill="#000"/>
<polygon points="700.3,297.0 697.3,298.0 697.3,296.0" fill="#000"/>
<line x1="541.9" y1="324.0" x2="614.0" y2="324.0" stroke="#000" stroke-width="0.8" stroke-linecap="butt"/>
<line x1="650.0" y1="324.0" x2="700.3" y2="324.0" stroke="#000" stroke-width="0.8" stroke-linecap="butt"/>
<polygon points="541.9,324.0 544.9,323.0 544.9,325.0" fill="#000"/>
<polygon points="700.3,324.0 697.3,325.0 697.3,323.0" fill="#000"/>
<text x="632.0" y="326.5" font-family="Liberation Sans" font-size="7" text-anchor="middle" fill="#000">142"</text>
<rect x="700.3" y="307.5" width="19.9" height="3.3" stroke="#000" stroke-width="0.7" fill="none"/>
<rect x="700.3" y="323.5" width="19.9" height="4.0" stroke="#000" stroke-width="0.7" fill="none"/>
<line x1="706.0" y1="300.0" x2="706.0" y2="332.0" stroke="#000" stroke-width="0.6" stroke-linecap="butt"/>
<line x1="713.0" y1="300.0" x2="713.0" y2="332.0" stroke="#000" stroke-width="0.6" stroke-linecap="butt"/>
<text x="499.7" y="318.3" font-family="Liberation Sans" font-size="7" text-anchor="middle" fill="#000">24"</text>
<text x="499.7" y="327.0" font-family="Liberation Sans" font-size="7" text-anchor="middle" textLength="20.0" lengthAdjust="spacing" fill="#000">HOLD</text>
<text x="499.7" y="337.3" font-family="Liberation Sans" font-size="7" text-anchor="middle" textLength="20.0" lengthAdjust="spacing" fill="#000">TANK</text>
<text x="528.2" y="318.3" font-family="Liberation Sans" font-size="7" text-anchor="middle" fill="#000">24"</text>
<text x="528.2" y="327.0" font-family="Liberation Sans" font-size="7" text-anchor="middle" textLength="20.0" lengthAdjust="spacing" fill="#000">HOLD</text>
<text x="528.2" y="337.3" font-family="Liberation Sans" font-size="7" text-anchor="middle" textLength="20.0" lengthAdjust="spacing" fill="#000">TANK</text>
<polygon points="486.0,324.0 488.5,323.0 488.5,325.0" fill="#000"/>
<polygon points="486.0,324.0 483.5,325.0 483.5,323.0" fill="#000"/>
<polygon points="514.0,324.0 516.5,323.0 516.5,325.0" fill="#000"/>
<polygon points="514.0,324.0 511.5,325.0 511.5,323.0" fill="#000"/>
<polygon points="541.9,324.0 544.4,323.0 544.4,325.0" fill="#000"/>
<polygon points="541.9,324.0 539.4,325.0 539.4,323.0" fill="#000"/>
<rect x="563.7" y="336.8" width="15.9" height="14.9" stroke="#000" stroke-width="2.0" fill="none"/>
<text x="571.6" y="345.8" font-family="Liberation Sans" font-size="6.5" text-anchor="middle" textLength="13.0" lengthAdjust="spacing" fill="#000">A/C</text>
<rect x="644.8" y="336.8" width="14.9" height="14.9" stroke="#000" stroke-width="2.0" fill="none"/>
<text x="652.3" y="345.8" font-family="Liberation Sans" font-size="6.5" text-anchor="middle" textLength="13.0" lengthAdjust="spacing" fill="#000">A/C</text>
<circle cx="665.0" cy="343.5" r="1.8" fill="#000"/>
<line x1="665.0" y1="343.5" x2="672.0" y2="343.5" stroke="#000" stroke-width="0.8" stroke-linecap="butt"/>
<line x1="686.0" y1="343.5" x2="700.3" y2="343.5" stroke="#000" stroke-width="0.8" stroke-linecap="butt"/>
<text x="678.3" y="346.0" font-family="Liberation Sans" font-size="7" text-anchor="middle" fill="#000">36"</text>
<polygon points="700.3,343.5 697.3,344.5 697.3,342.5" fill="#000"/>
<line x1="579.6" y1="353.0" x2="579.6" y2="360.0" stroke="#000" stroke-width="0.7" stroke-linecap="butt"/>
<line x1="579.6" y1="357.1" x2="628.0" y2="357.1" stroke="#000" stroke-width="0.8" stroke-linecap="butt"/>
<line x1="655.0" y1="357.1" x2="700.3" y2="357.1" stroke="#000" stroke-width="0.8" stroke-linecap="butt"/>
<polygon points="579.6,357.1 582.6,356.1 582.6,358.1" fill="#000"/>
<polygon points="700.3,357.1 697.3,358.1 697.3,356.1" fill="#000"/>
<text x="641.1" y="359.6" font-family="Liberation Sans" font-size="7" text-anchor="middle" fill="#000">108"</text>
<line x1="515.8" y1="369.0" x2="596.0" y2="369.0" stroke="#000" stroke-width="0.8" stroke-linecap="butt"/>
<line x1="622.0" y1="369.0" x2="700.3" y2="369.0" stroke="#000" stroke-width="0.8" stroke-linecap="butt"/>
<polygon points="515.8,369.0 518.8,368.0 518.8,370.0" fill="#000"/>
<polygon points="700.3,369.0 697.3,370.0 697.3,368.0" fill="#000"/>
<text x="608.8" y="371.5" font-family="Liberation Sans" font-size="7" text-anchor="middle" fill="#000">164"</text>
<rect x="487.3" y="360.9" width="29.3" height="28.5" stroke="#000" stroke-width="0.9" fill="none"/>
<text x="503.0" y="369.3" font-family="Liberation Sans" font-size="6.5" text-anchor="middle" fill="#000">26"</text>
<text x="492.0" y="371.2" font-family="Liberation Sans" font-size="6" text-anchor="middle" transform="rotate(-90 492.0 369.0)" fill="#000">26"</text>
<line x1="490.0" y1="362.0" x2="490.0" y2="388.0" stroke="#000" stroke-width="0.6" stroke-linecap="butt"/>
<line x1="598.9" y1="381.0" x2="598.9" y2="398.0" stroke="#000" stroke-width="0.7" stroke-linecap="butt"/>
<line x1="598.9" y1="391.4" x2="634.0" y2="391.4" stroke="#000" stroke-width="0.8" stroke-linecap="butt"/>
<line x1="675.0" y1="391.4" x2="700.3" y2="391.4" stroke="#000" stroke-width="0.8" stroke-linecap="butt"/>
<polygon points="598.9,391.4 601.9,390.4 601.9,392.4" fill="#000"/>
<polygon points="700.3,391.4 697.3,392.4 697.3,390.4" fill="#000"/>
<text x="655.0" y="393.9" font-family="Liberation Sans" font-size="7" text-anchor="middle" textLength="36.0" lengthAdjust="spacing" fill="#000">℄ 90-1/2"</text>
<rect x="569.0" y="396.7" width="57.2" height="2.3" fill="#000"/>
<text x="579.0" y="386.6" font-family="Liberation Sans" font-size="4.5" text-anchor="middle" fill="#000">24x22</text>
<text x="577.0" y="393.6" font-family="Liberation Sans" font-size="4.5" font-weight="bold" text-anchor="middle" textLength="26.0" lengthAdjust="spacingAndGlyphs" fill="#000">FRAMELESS</text>
<text x="580.0" y="405.1" font-family="Liberation Sans" font-size="4.5" font-weight="bold" text-anchor="middle" fill="#000">+1 BOW</text>
<circle cx="525.7" cy="399.0" r="1.5" fill="#000"/>
<line x1="525.7" y1="399.0" x2="525.7" y2="470.0" stroke="#000" stroke-width="0.8" stroke-linecap="butt"/>
<circle cx="551.3" cy="399.0" r="1.5" fill="#000"/>
<line x1="551.3" y1="399.0" x2="551.3" y2="470.0" stroke="#000" stroke-width="0.8" stroke-linecap="butt"/>
<rect x="642.3" y="400.5" width="41.0" height="10.7" stroke="#000" stroke-width="0.8" fill="none"/>
<text x="662.8" y="408.1" font-family="Liberation Sans" font-size="6.5" text-anchor="middle" textLength="36.0" lengthAdjust="spacing" fill="#000">36" STEP</text>
<line x1="656.0" y1="421.6" x2="681.0" y2="398.0" stroke="#000" stroke-width="2.6" stroke-linecap="butt"/>
<line x1="657.0" y1="419.0" x2="680.0" y2="397.0" stroke="#fff" stroke-width="0.8" stroke-linecap="butt"/>
<circle cx="681.0" cy="398.0" r="2.2" fill="#000"/>
<line x1="646.0" y1="421.0" x2="646.0" y2="441.0" stroke="#000" stroke-width="0.7" stroke-linecap="butt"/>
<line x1="679.5" y1="398.0" x2="679.5" y2="441.0" stroke="#000" stroke-width="0.7" stroke-linecap="butt"/>
<text x="663.4" y="425.2" font-family="Liberation Sans" font-size="6.5" text-anchor="middle" fill="#000">29"</text>
<text x="663.4" y="435.1" font-family="Liberation Sans" font-size="6.5" text-anchor="middle" textLength="22.0" lengthAdjust="spacing" fill="#000">DOOR</text>
<line x1="679.5" y1="427.8" x2="700.3" y2="427.8" stroke="#000" stroke-width="0.8" stroke-linecap="butt"/>
<polygon points="700.3,427.8 697.3,428.8 697.3,426.8" fill="#000"/>
<polygon points="679.5,427.8 682.5,426.8 682.5,428.8" fill="#000"/>
<line x1="683.0" y1="410.0" x2="700.3" y2="410.0" stroke="#000" stroke-width="0.7" stroke-linecap="butt"/>
<text x="702.0" y="430.1" font-family="Liberation Sans" font-size="6.5" text-anchor="start" textLength="17.0" lengthAdjust="spacingAndGlyphs" fill="#000">16-1/2"</text>
<text x="724.6" y="413.9" font-family="Liberation Sans" font-size="6.5" text-anchor="middle" fill="#000">10"</text>
<text x="538.3" y="441.6" font-family="Liberation Sans" font-size="6.5" text-anchor="middle" fill="#000">23"W x</text>
<text x="538.3" y="451.1" font-family="Liberation Sans" font-size="6.5" text-anchor="middle" fill="#000">14"T</text>
<text x="538.3" y="460.1" font-family="Liberation Sans" font-size="6.5" text-anchor="middle" fill="#000">5" BOV</text>
<text x="538.3" y="469.5" font-family="Liberation Sans" font-size="6.5" text-anchor="middle" fill="#000">21" BOV</text>
<line x1="551.1" y1="451.3" x2="605.0" y2="451.3" stroke="#000" stroke-width="0.8" stroke-linecap="butt"/>
<line x1="646.0" y1="451.3" x2="699.7" y2="451.3" stroke="#000" stroke-width="0.8" stroke-linecap="butt"/>
<polygon points="551.1,451.3 554.1,450.3 554.1,452.3" fill="#000"/>
<polygon points="699.7,451.3 696.7,452.3 696.7,450.3" fill="#000"/>
<text x="625.4" y="453.8" font-family="Liberation Sans" font-size="7" text-anchor="middle" textLength="30.0" lengthAdjust="spacing" fill="#000">132-1/2"</text>
<text x="795.0" y="272.4" font-family="Liberation Sans" font-size="6.5" text-anchor="middle" textLength="25.0" lengthAdjust="spacing" fill="#000">3'6"x22"</text>
<text x="795.0" y="284.5" font-family="Liberation Sans" font-size="7" text-anchor="middle" textLength="28.0" lengthAdjust="spacingAndGlyphs" fill="#000">EGRESS</text>
<text x="796.0" y="295.1" font-family="Liberation Sans" font-size="7" text-anchor="middle" textLength="40.0" lengthAdjust="spacingAndGlyphs" fill="#000">FRAMELESS</text>
<line x1="712.7" y1="270.0" x2="712.7" y2="283.0" stroke="#000" stroke-width="0.7" stroke-linecap="butt"/>
<line x1="770.2" y1="278.0" x2="770.2" y2="293.0" stroke="#000" stroke-width="0.7" stroke-linecap="butt"/>
<line x1="712.7" y1="282.0" x2="735.0" y2="284.7" stroke="#000" stroke-width="0.8" stroke-linecap="butt"/>
<line x1="748.0" y1="286.0" x2="770.2" y2="288.9" stroke="#000" stroke-width="0.8" stroke-linecap="butt"/>
<text x="741.0" y="288.0" font-family="Liberation Sans" font-size="6.5" text-anchor="middle" fill="#000">52"</text>
<line x1="712.7" y1="397.0" x2="712.7" y2="412.0" stroke="#000" stroke-width="0.7" stroke-linecap="butt"/>
<line x1="770.0" y1="393.0" x2="770.0" y2="410.0" stroke="#000" stroke-width="0.7" stroke-linecap="butt"/>
<line x1="712.7" y1="404.2" x2="735.0" y2="401.0" stroke="#000" stroke-width="0.8" stroke-linecap="butt"/>
<line x1="748.0" y1="399.0" x2="770.0" y2="395.6" stroke="#000" stroke-width="0.8" stroke-linecap="butt"/>
<text x="741.0" y="402.8" font-family="Liberation Sans" font-size="6.5" text-anchor="middle" fill="#000">52"</text>
<text x="788.8" y="399.1" font-family="Liberation Sans" font-size="6.5" text-anchor="middle" textLength="25.0" lengthAdjust="spacing" fill="#000">3'6"x22"</text>
<text x="786.3" y="411.6" font-family="Liberation Sans" font-size="7" text-anchor="middle" textLength="28.0" lengthAdjust="spacingAndGlyphs" fill="#000">EGRESS</text>
<text x="790.0" y="423.5" font-family="Liberation Sans" font-size="7" text-anchor="middle" textLength="40.0" lengthAdjust="spacingAndGlyphs" fill="#000">FRAMELESS</text>
<text x="841.9" y="397.5" font-family="Liberation Sans" font-size="7" text-anchor="start" textLength="65.4" lengthAdjust="spacing" fill="#000">16" AWNING TYPE</text>
<text x="842.5" y="409.7" font-family="Liberation Sans" font-size="7" text-anchor="start" textLength="63.5" lengthAdjust="spacing" fill="#000">FLOOD LIGHT w/</text>
<text x="836.4" y="420.3" font-family="Liberation Sans" font-size="7" text-anchor="start" textLength="74.6" lengthAdjust="spacing" fill="#000">SWITCH UNDER G/N</text>
<polyline points="841.0,395.0 816.0,395.0 714.0,355.0" stroke="#000" stroke-width="0.8" fill="none"/>
<polygon points="710.0,353.5 716.3,353.9 715.0,357.2" fill="#000"/>
<line x1="700.3" y1="404.0" x2="712.0" y2="404.0" stroke="#000" stroke-width="0.7" stroke-linecap="butt"/>
<line x1="700.3" y1="416.0" x2="712.0" y2="416.0" stroke="#000" stroke-width="0.7" stroke-linecap="butt"/>
<line x1="699.4" y1="301.5" x2="701.2" y2="298.5" stroke="#000" stroke-width="0.8" stroke-linecap="butt"/>
<line x1="699.4" y1="311.5" x2="701.2" y2="308.5" stroke="#000" stroke-width="0.8" stroke-linecap="butt"/>
<line x1="699.4" y1="321.5" x2="701.2" y2="318.5" stroke="#000" stroke-width="0.8" stroke-linecap="butt"/>
<line x1="699.4" y1="331.5" x2="701.2" y2="328.5" stroke="#000" stroke-width="0.8" stroke-linecap="butt"/>
<line x1="699.4" y1="341.5" x2="701.2" y2="338.5" stroke="#000" stroke-width="0.8" stroke-linecap="butt"/>
<line x1="699.4" y1="351.5" x2="701.2" y2="348.5" stroke="#000" stroke-width="0.8" stroke-linecap="butt"/>
<line x1="699.4" y1="361.5" x2="701.2" y2="358.5" stroke="#000" stroke-width="0.8" stroke-linecap="butt"/>
<line x1="699.4" y1="371.5" x2="701.2" y2="368.5" stroke="#000" stroke-width="0.8" stroke-linecap="butt"/>
<line x1="699.4" y1="381.5" x2="701.2" y2="378.5" stroke="#000" stroke-width="0.8" stroke-linecap="butt"/>
<line x1="699.4" y1="391.5" x2="701.2" y2="388.5" stroke="#000" stroke-width="0.8" stroke-linecap="butt"/>
<line x1="52.0" y1="577.9" x2="196.3" y2="577.9" stroke="#000" stroke-width="0.9" stroke-linecap="butt"/>
<line x1="78.2" y1="601.1" x2="196.0" y2="601.1" stroke="#000" stroke-width="0.9" stroke-linecap="butt"/>
<line x1="101.5" y1="609.2" x2="191.0" y2="609.2" stroke="#000" stroke-width="0.9" stroke-linecap="butt"/>
<line x1="52.0" y1="706.1" x2="196.0" y2="706.1" stroke="#000" stroke-width="0.9" stroke-linecap="butt"/>
<line x1="64.9" y1="577.9" x2="64.9" y2="706.1" stroke="#000" stroke-width="0.8" stroke-linecap="butt"/>
<polygon points="64.9,577.9 65.9,580.9 63.9,580.9" fill="#000"/>
<polygon points="64.9,706.1 63.9,703.1 65.9,703.1" fill="#000"/>
<line x1="90.8" y1="601.1" x2="90.8" y2="706.1" stroke="#000" stroke-width="0.8" stroke-linecap="butt"/>
<polygon points="90.8,601.1 91.8,604.1 89.8,604.1" fill="#000"/>
<polygon points="90.8,706.1 89.8,703.1 91.8,703.1" fill="#000"/>
<line x1="114.8" y1="609.2" x2="114.8" y2="706.1" stroke="#000" stroke-width="0.8" stroke-linecap="butt"/>
<polygon points="114.8,609.2 115.8,612.2 113.8,612.2" fill="#000"/>
<polygon points="114.8,706.1 113.8,703.1 115.8,703.1" fill="#000"/>
<rect x="61.9" y="620.0" width="6.0" height="42.0" fill="#fff"/>
<rect x="87.8" y="630.0" width="6.0" height="45.0" fill="#fff"/>
<rect x="111.8" y="618.0" width="6.0" height="78.0" fill="#fff"/>
<text x="65.4" y="643.8" font-family="Liberation Sans" font-size="7" text-anchor="middle" textLength="35.0" lengthAdjust="spacing" transform="rotate(-90 65.4 641.3)" fill="#000">9'-3" TALL</text>
<text x="90.8" y="655.1" font-family="Liberation Sans" font-size="7" text-anchor="middle" textLength="39.0" lengthAdjust="spacing" transform="rotate(-90 90.8 652.6)" fill="#000">7'-10" TALL</text>
<text x="109.8" y="658.3" font-family="Liberation Sans" font-size="6.5" text-anchor="middle" textLength="13.0" lengthAdjust="spacing" transform="rotate(-90 109.8 656.0)" fill="#000">7'-2"</text>
<text x="119.8" y="659.8" font-family="Liberation Sans" font-size="7" text-anchor="middle" textLength="72.0" lengthAdjust="spacing" transform="rotate(-90 119.8 657.3)" fill="#000">STALL AREA HEIGHT</text>
<rect x="147.7" y="610.0" width="46.0" height="98.0" stroke="#000" stroke-width="1.0" fill="none"/>
<line x1="150.0" y1="612.0" x2="150.0" y2="706.0" stroke="#000" stroke-width="0.6" stroke-linecap="butt"/>
<rect x="158.4" y="626.5" width="25.1" height="18.7" stroke="#000" stroke-width="2.0" fill="none" rx="3"/>
<line x1="170.9" y1="626.5" x2="170.9" y2="645.2" stroke="#000" stroke-width="1.6" stroke-linecap="butt"/>
<line x1="129.0" y1="664.0" x2="148.0" y2="664.0" stroke="#000" stroke-width="1.6" stroke-linecap="butt"/>
<line x1="129.0" y1="662.0" x2="129.0" y2="666.0" stroke="#000" stroke-width="1.0" stroke-linecap="butt"/>
<rect x="146.0" y="657.0" width="4.0" height="14.0" stroke="#000" stroke-width="1.0" fill="#fff"/>
<rect x="190.0" y="657.7" width="3.0" height="1.6" fill="#000"/>
<rect x="186.6" y="662.2" width="6.4" height="1.6" fill="#000"/>
<rect x="183.1" y="666.7" width="9.9" height="1.6" fill="#000"/>
<rect x="179.7" y="671.2" width="13.3" height="1.6" fill="#000"/>
<rect x="176.2" y="675.7" width="16.8" height="1.6" fill="#000"/>
<rect x="172.8" y="680.2" width="20.2" height="1.6" fill="#000"/>
<rect x="169.4" y="684.7" width="23.6" height="1.6" fill="#000"/>
<rect x="165.9" y="689.2" width="27.1" height="1.6" fill="#000"/>
<rect x="162.5" y="693.7" width="30.5" height="1.6" fill="#000"/>
<rect x="159.0" y="698.2" width="34.0" height="1.6" fill="#000"/>
<rect x="155.6" y="702.7" width="37.4" height="1.6" fill="#000"/>
<line x1="153.6" y1="706.0" x2="193.0" y2="654.6" stroke="#000" stroke-width="1.0" stroke-linecap="butt"/>
<circle cx="166.0" cy="610.0" r="1.3" fill="#000"/>
<circle cx="193.0" cy="640.0" r="1.2" fill="#000"/>
<rect x="195.3" y="582.0" width="4.5" height="130.0" fill="#707070"/>
<rect x="199.6" y="582.9" width="2.5" height="129.1" fill="#000"/>
<line x1="195.3" y1="582.0" x2="195.3" y2="712.0" stroke="#000" stroke-width="0.8" stroke-linecap="butt"/>
<line x1="196.0" y1="578.1" x2="374.3" y2="578.1" stroke="#000" stroke-width="0.9" stroke-linecap="butt"/>
<rect x="199.6" y="582.3" width="174.7" height="3.5" fill="#000"/>
<line x1="199.0" y1="587.0" x2="374.0" y2="587.0" stroke="#000" stroke-width="0.6" stroke-linecap="butt"/>
<polyline points="374.3,578.1 425.1,604.5" stroke="#000" stroke-width="0.9" fill="none"/>
<polygon points="375.0,582.2 378.5,580.5 427.0,605.0 423.0,607.5" stroke="#000" stroke-width="0" fill="#000"/>
<line x1="378.0" y1="578.0" x2="427.0" y2="603.0" stroke="#000" stroke-width="0.9" stroke-linecap="butt"/>
<line x1="381.0" y1="582.3" x2="382.5" y2="581.0" stroke="#fff" stroke-width="0.7" stroke-linecap="butt"/>
<line x1="384.8" y1="584.2" x2="386.3" y2="582.9" stroke="#fff" stroke-width="0.7" stroke-linecap="butt"/>
<line x1="388.6" y1="586.1" x2="390.1" y2="584.8" stroke="#fff" stroke-width="0.7" stroke-linecap="butt"/>
<line x1="392.5" y1="588.0" x2="394.0" y2="586.7" stroke="#fff" stroke-width="0.7" stroke-linecap="butt"/>
<line x1="396.3" y1="589.9" x2="397.8" y2="588.6" stroke="#fff" stroke-width="0.7" stroke-linecap="butt"/>
<line x1="400.1" y1="591.8" x2="401.6" y2="590.5" stroke="#fff" stroke-width="0.7" stroke-linecap="butt"/>
<line x1="403.9" y1="593.8" x2="405.4" y2="592.5" stroke="#fff" stroke-width="0.7" stroke-linecap="butt"/>
<line x1="407.7" y1="595.7" x2="409.2" y2="594.4" stroke="#fff" stroke-width="0.7" stroke-linecap="butt"/>
<line x1="411.5" y1="597.6" x2="413.0" y2="596.3" stroke="#fff" stroke-width="0.7" stroke-linecap="butt"/>
<line x1="415.4" y1="599.5" x2="416.9" y2="598.2" stroke="#fff" stroke-width="0.7" stroke-linecap="butt"/>
<line x1="419.2" y1="601.4" x2="420.7" y2="600.1" stroke="#fff" stroke-width="0.7" stroke-linecap="butt"/>
<line x1="423.0" y1="603.3" x2="424.5" y2="602.0" stroke="#fff" stroke-width="0.7" stroke-linecap="butt"/>
<line x1="425.0" y1="578.0" x2="433.5" y2="578.0" stroke="#000" stroke-width="0.9" stroke-linecap="butt"/>
<line x1="348.6" y1="600.8" x2="440.0" y2="600.8" stroke="#000" stroke-width="0.8" stroke-linecap="butt"/>
<polygon points="370.0,590.0 382.0,586.0 372.0,598.0" stroke="#000" stroke-width="0" fill="#000"/>
<rect x="425.0" y="605.0" width="286.2" height="3.6" fill="#000"/>
<line x1="425.0" y1="601.0" x2="711.2" y2="601.0" stroke="#000" stroke-width="0.9" stroke-linecap="butt"/>
<circle cx="487.6" cy="601.0" r="1.3" fill="#000"/>
<circle cx="516.7" cy="601.0" r="1.3" fill="#000"/>
<circle cx="525.5" cy="601.0" r="1.3" fill="#000"/>
<circle cx="552.2" cy="601.0" r="1.3" fill="#000"/>
<circle cx="700.0" cy="601.0" r="1.3" fill="#000"/>
<rect x="197.3" y="567.2" width="45.7" height="10.9" stroke="#000" stroke-width="1.0" fill="none"/>
<line x1="197.3" y1="569.2" x2="243.0" y2="569.2" stroke="#000" stroke-width="0.6" stroke-linecap="butt"/>
<rect x="204.9" y="571.0" width="5.2" height="6.7" fill="#000"/>
<rect x="214.0" y="571.0" width="5.2" height="6.7" fill="#000"/>
<rect x="224.0" y="571.0" width="5.2" height="6.7" fill="#000"/>
<rect x="233.5" y="571.0" width="5.2" height="6.7" fill="#000"/>
<text x="188.3" y="542.2" font-family="Liberation Sans" font-size="7" text-anchor="start" textLength="66.3" lengthAdjust="spacing" fill="#000">16" AWNING TYPE</text>
<text x="196.3" y="554.2" font-family="Liberation Sans" font-size="7" text-anchor="start" textLength="49.5" lengthAdjust="spacing" fill="#000">FLOOD LIGHT</text>
<line x1="246.0" y1="551.7" x2="272.0" y2="551.7" stroke="#000" stroke-width="0.8" stroke-linecap="butt"/>
<line x1="270.0" y1="551.7" x2="256.5" y2="603.0" stroke="#000" stroke-width="0.8" stroke-linecap="butt"/>
<line x1="276.0" y1="551.7" x2="363.0" y2="603.0" stroke="#000" stroke-width="0.8" stroke-linecap="butt"/>
<ellipse cx="256" cy="604.5" rx="1.8" ry="4" fill="#000" transform="rotate(15 256 604.5)"/>
<ellipse cx="364.5" cy="604.5" rx="1.8" ry="4.5" fill="#000" transform="rotate(-55 364.5 604.5)"/>
<rect x="256.8" y="571.7" width="91.8" height="6.4" stroke="#000" stroke-width="1.0" fill="none"/>
<line x1="256.8" y1="574.0" x2="348.6" y2="574.0" stroke="#000" stroke-width="0.6" stroke-linecap="butt"/>
<line x1="258.0" y1="557.0" x2="258.0" y2="578.0" stroke="#000" stroke-width="0.7" stroke-linecap="butt"/>
<line x1="195.3" y1="547.4" x2="271.0" y2="547.4" stroke="#000" stroke-width="0.8" stroke-linecap="butt"/>
<line x1="302.0" y1="547.4" x2="375.7" y2="547.4" stroke="#000" stroke-width="0.8" stroke-linecap="butt"/>
<text x="286.5" y="550.2" font-family="Liberation Sans" font-size="7" text-anchor="middle" textLength="29.0" lengthAdjust="spacing" fill="#000">160-7/8"</text>
<line x1="375.7" y1="534.0" x2="375.7" y2="578.0" stroke="#000" stroke-width="0.8" stroke-linecap="butt"/>
<line x1="195.3" y1="540.0" x2="195.3" y2="578.0" stroke="#000" stroke-width="0.8" stroke-linecap="butt"/>
<text x="62.7" y="546.7" font-family="Liberation Sans" font-size="7" text-anchor="start" textLength="74.9" lengthAdjust="spacing" fill="#000">IPOD GATE AT REAR</text>
<polyline points="138.0,544.0 165.6,544.0 193.0,590.0" stroke="#000" stroke-width="0.8" fill="none"/>
<polygon points="195.0,593.1 190.4,588.9 193.5,587.0" fill="#000"/>
<line x1="201.7" y1="596.6" x2="216.0" y2="596.6" stroke="#000" stroke-width="0.8" stroke-linecap="butt"/>
<line x1="236.0" y1="596.6" x2="257.8" y2="596.6" stroke="#000" stroke-width="0.8" stroke-linecap="butt"/>
<text x="225.7" y="598.9" font-family="Liberation Sans" font-size="6.5" text-anchor="middle" fill="#000">5'8"</text>
<polygon points="257.8,596.6 254.8,597.6 254.8,595.6" fill="#000"/>
<line x1="201.6" y1="609.2" x2="711.0" y2="609.2" stroke="#000" stroke-width="0.8" stroke-linecap="butt" stroke-dasharray="14,4"/>
<line x1="257.0" y1="585.0" x2="257.0" y2="609.0" stroke="#000" stroke-width="0.7" stroke-linecap="butt"/>
<line x1="350.0" y1="572.7" x2="375.7" y2="572.7" stroke="#000" stroke-width="0.8" stroke-linecap="butt"/>
<text x="362.3" y="575.0" font-family="Liberation Sans" font-size="6.5" text-anchor="middle" fill="#000">24"</text>
<line x1="348.0" y1="565.0" x2="348.0" y2="578.0" stroke="#000" stroke-width="0.7" stroke-linecap="butt"/>
<text x="358.3" y="591.6" font-family="Liberation Sans" font-size="6.5" text-anchor="middle" fill="#000">21"</text>
<line x1="363.0" y1="584.0" x2="363.0" y2="604.0" stroke="#000" stroke-width="0.7" stroke-linecap="butt"/>
<text x="387.7" y="603.9" font-family="Liberation Sans" font-size="6.5" text-anchor="middle" textLength="20.0" lengthAdjust="spacing" fill="#000">25.00"</text>
<line x1="350.0" y1="604.0" x2="420.0" y2="604.0" stroke="#000" stroke-width="0.7" stroke-linecap="butt"/>
<text x="421.1" y="592.4" font-family="Liberation Sans" font-size="6.5" text-anchor="middle" fill="#000">21"</text>
<line x1="421.0" y1="578.0" x2="421.0" y2="604.0" stroke="#000" stroke-width="0.7" stroke-linecap="butt"/>
<line x1="405.0" y1="578.0" x2="440.0" y2="578.0" stroke="#000" stroke-width="0.7" stroke-linecap="butt"/>
<text x="430.4" y="564.0" font-family="Liberation Sans" font-size="7" text-anchor="start" textLength="39.6" lengthAdjust="spacing" fill="#000">54 GALLON</text>
<text x="430.4" y="574.5" font-family="Liberation Sans" font-size="7" text-anchor="start" textLength="43.6" lengthAdjust="spacingAndGlyphs" fill="#000">WATER TANK</text>
<polyline points="430.0,558.0 402.4,558.0 378.0,593.0" stroke="#000" stroke-width="0.8" fill="none"/>
<polygon points="374.3,595.5 375.9,590.5 378.5,592.3" fill="#000"/>
<rect x="230.0" y="614.2" width="48.2" height="28.0" stroke="#000" stroke-width="1.2" fill="none"/>
<rect x="232.5" y="616.5" width="43.2" height="23.5" stroke="#000" stroke-width="0.8" fill="none"/>
<rect x="240.4" y="621.2" width="29.4" height="16.0" stroke="#000" stroke-width="1.8" fill="none" rx="3"/>
<line x1="255.1" y1="621.2" x2="255.1" y2="637.2" stroke="#000" stroke-width="1.4400000000000002" stroke-linecap="butt"/>
<rect x="269.8" y="626.0" width="4.2" height="6.0" fill="#000"/>
<rect x="237.0" y="626.0" width="3.4" height="6.0" fill="#000"/>
<rect x="282.2" y="620.3" width="130.9" height="29.9" stroke="#000" stroke-width="1.3" fill="none"/>
<rect x="322.9" y="620.3" width="4.0" height="29.9" fill="#000"/>
<rect x="366.5" y="620.3" width="4.0" height="29.9" fill="#000"/>
<rect x="285.0" y="622.0" width="36.9" height="26.5" stroke="#000" stroke-width="0.7" fill="none"/>
<rect x="327.9" y="622.0" width="37.6" height="26.5" stroke="#000" stroke-width="0.7" fill="none"/>
<rect x="371.5" y="622.0" width="38.8" height="26.5" stroke="#000" stroke-width="0.7" fill="none"/>
<rect x="291.5" y="626.7" width="25.4" height="17.6" stroke="#000" stroke-width="1.8" fill="none" rx="3"/>
<line x1="304.2" y1="626.7" x2="304.2" y2="644.3" stroke="#000" stroke-width="1.4400000000000002" stroke-linecap="butt"/>
<rect x="316.9" y="632.0" width="4.0" height="6.0" fill="#000"/>
<rect x="288.5" y="632.0" width="3.0" height="6.0" fill="#000"/>
<rect x="334.3" y="626.7" width="25.3" height="17.6" stroke="#000" stroke-width="1.8" fill="none" rx="3"/>
<line x1="347.0" y1="626.7" x2="347.0" y2="644.3" stroke="#000" stroke-width="1.4400000000000002" stroke-linecap="butt"/>
<rect x="359.6" y="632.0" width="4.0" height="6.0" fill="#000"/>
<rect x="331.3" y="632.0" width="3.0" height="6.0" fill="#000"/>
<rect x="378.4" y="626.7" width="25.3" height="17.6" stroke="#000" stroke-width="1.8" fill="none" rx="3"/>
<line x1="391.0" y1="626.7" x2="391.0" y2="644.3" stroke="#000" stroke-width="1.4400000000000002" stroke-linecap="butt"/>
<rect x="403.7" y="632.0" width="4.0" height="6.0" fill="#000"/>
<rect x="375.4" y="632.0" width="3.0" height="6.0" fill="#000"/>
<rect x="204.7" y="643.5" width="76.1" height="62.8" stroke="#000" stroke-width="1.0" fill="none"/>
<line x1="204.7" y1="647.0" x2="280.8" y2="647.0" stroke="#000" stroke-width="0.6" stroke-linecap="butt"/>
<line x1="207.0" y1="646.0" x2="207.0" y2="706.0" stroke="#000" stroke-width="0.6" stroke-linecap="butt"/>
<line x1="206.0" y1="656.6" x2="222.0" y2="656.6" stroke="#000" stroke-width="0.9" stroke-linecap="butt"/>
<circle cx="208.5" cy="661.0" r="1.6" fill="#000"/>
<rect x="204.0" y="664.6" width="507.0" height="1.7" fill="#000"/>
<rect x="204.0" y="668.5" width="507.0" height="1.7" fill="#000"/>
<rect x="204.0" y="674.9" width="507.0" height="1.7" fill="#000"/>
<rect x="204.0" y="679.1" width="507.0" height="1.7" fill="#000"/>
<rect x="204.0" y="684.8" width="507.0" height="1.7" fill="#000"/>
<rect x="204.0" y="689.0" width="507.0" height="1.7" fill="#000"/>
<rect x="204.0" y="694.9" width="507.0" height="1.7" fill="#000"/>
<rect x="204.0" y="698.9" width="507.0" height="1.7" fill="#000"/>
<rect x="204.0" y="658.0" width="239.5" height="1.6" fill="#000"/>
<line x1="204.0" y1="655.3" x2="441.5" y2="655.3" stroke="#000" stroke-width="0.8" stroke-linecap="butt"/>
<line x1="441.5" y1="655.3" x2="460.2" y2="665.2" stroke="#000" stroke-width="0.9" stroke-linecap="butt"/>
<rect x="204.0" y="704.9" width="507.0" height="1.6" fill="#000"/>
<rect x="401.0" y="706.5" width="310.0" height="4.5" fill="#000"/>
<line x1="204.0" y1="712.6" x2="401.0" y2="712.6" stroke="#000" stroke-width="0.7" stroke-linecap="butt"/>
<rect x="210.0" y="705.5" width="4.0" height="2.0" fill="#000"/>
<rect x="225.0" y="705.5" width="4.0" height="2.0" fill="#000"/>
<rect x="240.0" y="705.5" width="4.0" height="2.0" fill="#000"/>
<rect x="255.0" y="705.5" width="4.0" height="2.0" fill="#000"/>
<rect x="270.0" y="705.5" width="4.0" height="2.0" fill="#000"/>
<rect x="526.0" y="691.0" width="26.2" height="5.3" stroke="#000" stroke-width="0.8" fill="#fff"/>
<rect x="527.0" y="697.0" width="6.0" height="2.0" fill="#000"/>
<rect x="537.0" y="697.0" width="6.0" height="2.0" fill="#000"/>
<rect x="546.0" y="697.0" width="6.0" height="2.0" fill="#000"/>
<text x="521.5" y="633.5" font-family="Liberation Serif" font-size="11" font-weight="bold" text-anchor="middle" textLength="37.0" lengthAdjust="spacingAndGlyphs" fill="#000">WHITE</text>
<text x="521.5" y="646.9" font-family="Liberation Serif" font-size="11" font-weight="bold" text-anchor="middle" textLength="42.0" lengthAdjust="spacingAndGlyphs" fill="#000">SHEETS</text>
<rect x="570.9" y="635.4" width="56.1" height="24.8" stroke="#000" stroke-width="1.2" fill="none" rx="3.5"/>
<line x1="591.0" y1="635.4" x2="591.0" y2="660.2" stroke="#000" stroke-width="1.0" stroke-linecap="butt"/>
<circle cx="599.0" cy="635.4" r="1.2" fill="#000"/>
<rect x="625.0" y="645.0" width="4.0" height="4.0" fill="#000"/>
<rect x="643.8" y="618.3" width="39.2" height="2.3" fill="#000"/>
<line x1="644.4" y1="618.8" x2="644.4" y2="700.3" stroke="#000" stroke-width="1.6" stroke-linecap="butt"/>
<line x1="682.6" y1="618.8" x2="682.6" y2="700.3" stroke="#000" stroke-width="1.6" stroke-linecap="butt"/>
<line x1="648.0" y1="620.0" x2="648.0" y2="699.0" stroke="#000" stroke-width="0.7" stroke-linecap="butt"/>
<line x1="679.0" y1="620.0" x2="679.0" y2="699.0" stroke="#000" stroke-width="0.7" stroke-linecap="butt"/>
<rect x="641.0" y="664.0" width="70.0" height="2.0" fill="#000"/>
<rect x="649.7" y="625.5" width="27.5" height="20.0" stroke="#000" stroke-width="1.2" fill="none" rx="3"/>
<rect x="662.0" y="623.0" width="3.0" height="6.0" fill="#000"/>
<rect x="676.0" y="633.0" width="3.0" height="5.0" fill="#000"/>
<rect x="650.0" y="659.0" width="4.0" height="6.0" fill="#000"/>
<rect x="648.0" y="667.6" width="31.0" height="1.2" fill="#fff"/>
<rect x="648.0" y="672.4" width="31.0" height="1.2" fill="#fff"/>
<rect x="648.0" y="677.4" width="31.0" height="1.2" fill="#fff"/>
<rect x="648.0" y="682.4" width="31.0" height="1.2" fill="#fff"/>
<rect x="648.0" y="687.4" width="31.0" height="1.2" fill="#fff"/>
<rect x="648.0" y="692.4" width="31.0" height="1.2" fill="#fff"/>
<rect x="648.0" y="697.4" width="31.0" height="1.2" fill="#fff"/>
<rect x="643.0" y="699.8" width="40.1" height="13.9" stroke="#000" stroke-width="0.8" fill="#fff"/>
<text x="663.0" y="705.7" font-family="Liberation Sans" font-size="6" text-anchor="middle" textLength="36.0" lengthAdjust="spacing" fill="#000">36" FOLD</text>
<text x="663.0" y="712.4" font-family="Liberation Sans" font-size="6" text-anchor="middle" textLength="28.0" lengthAdjust="spacing" fill="#000">UP STEP</text>
<path d="M285.8,709 A21,21 0 0 1 327.8,709" stroke="#000" stroke-width="1.1" fill="#fff"/>
<path d="M326.6,709 A21,21 0 0 1 368.6,709" stroke="#000" stroke-width="1.1" fill="#fff"/>
<path d="M368,709 A21,21 0 0 1 410,709" stroke="#000" stroke-width="1.1" fill="#fff"/>
<circle cx="306.8" cy="707.7" r="17.4" stroke="#000" stroke-width="1.3" fill="#fff"/>
<circle cx="306.8" cy="707.7" r="8.8" stroke="#000" stroke-width="0.8" fill="#1a1a1a"/>
<circle cx="312.0" cy="707.7" r="0.8" fill="#ddd"/>
<circle cx="310.5" cy="711.4" r="0.8" fill="#ddd"/>
<circle cx="306.8" cy="712.9" r="0.8" fill="#ddd"/>
<circle cx="303.1" cy="711.4" r="0.8" fill="#ddd"/>
<circle cx="301.6" cy="707.7" r="0.8" fill="#ddd"/>
<circle cx="303.1" cy="704.0" r="0.8" fill="#ddd"/>
<circle cx="306.8" cy="702.5" r="0.8" fill="#ddd"/>
<circle cx="310.5" cy="704.0" r="0.8" fill="#ddd"/>
<circle cx="306.8" cy="707.7" r="1.1" fill="#ddd"/>
<circle cx="347.6" cy="707.7" r="17.4" stroke="#000" stroke-width="1.3" fill="#fff"/>
<circle cx="347.6" cy="707.7" r="8.8" stroke="#000" stroke-width="0.8" fill="#1a1a1a"/>
<circle cx="352.8" cy="707.7" r="0.8" fill="#ddd"/>
<circle cx="351.3" cy="711.4" r="0.8" fill="#ddd"/>
<circle cx="347.6" cy="712.9" r="0.8" fill="#ddd"/>
<circle cx="343.9" cy="711.4" r="0.8" fill="#ddd"/>
<circle cx="342.4" cy="707.7" r="0.8" fill="#ddd"/>
<circle cx="343.9" cy="704.0" r="0.8" fill="#ddd"/>
<circle cx="347.6" cy="702.5" r="0.8" fill="#ddd"/>
<circle cx="351.3" cy="704.0" r="0.8" fill="#ddd"/>
<circle cx="347.6" cy="707.7" r="1.1" fill="#ddd"/>
<circle cx="389.0" cy="707.7" r="17.4" stroke="#000" stroke-width="1.3" fill="#fff"/>
<circle cx="389.0" cy="707.7" r="8.8" stroke="#000" stroke-width="0.8" fill="#1a1a1a"/>
<circle cx="394.2" cy="707.7" r="0.8" fill="#ddd"/>
<circle cx="392.7" cy="711.4" r="0.8" fill="#ddd"/>
<circle cx="389.0" cy="712.9" r="0.8" fill="#ddd"/>
<circle cx="385.3" cy="711.4" r="0.8" fill="#ddd"/>
<circle cx="383.8" cy="707.7" r="0.8" fill="#ddd"/>
<circle cx="385.3" cy="704.0" r="0.8" fill="#ddd"/>
<circle cx="389.0" cy="702.5" r="0.8" fill="#ddd"/>
<circle cx="392.7" cy="704.0" r="0.8" fill="#ddd"/>
<circle cx="389.0" cy="707.7" r="1.1" fill="#ddd"/>
<path d="M711.2,601.4 L818,601.4 Q821.5,601.4 821.5,605 L821.5,659" stroke="#000" stroke-width="1.0" fill="none"/>
<rect x="690.0" y="605.7" width="113.6" height="3.2" fill="#000"/>
<line x1="803.6" y1="601.4" x2="803.6" y2="659.0" stroke="#000" stroke-width="0.9" stroke-linecap="butt"/>
<rect x="803.6" y="606.0" width="17.9" height="3.0" fill="#888"/>
<rect x="748.3" y="615.6" width="41.7" height="26.0" stroke="#000" stroke-width="1.2" fill="none" rx="3.5"/>
<circle cx="769.0" cy="615.6" r="1.3" fill="#000"/>
<rect x="788.0" y="629.0" width="4.0" height="4.0" fill="#000"/>
<rect x="739.6" y="655.3" width="81.9" height="3.7" fill="#000"/>
<line x1="711.2" y1="557.3" x2="711.2" y2="712.0" stroke="#000" stroke-width="0.9" stroke-linecap="butt"/>
<polygon points="736.0,655.0 741.5,655.0 717.0,711.0 711.5,711.0" stroke="#000" stroke-width="0" fill="#000"/>
<line x1="743.2" y1="658.0" x2="718.8" y2="711.0" stroke="#666" stroke-width="1.0" stroke-linecap="butt"/>
<line x1="700.0" y1="653.5" x2="821.5" y2="653.5" stroke="#000" stroke-width="0.8" stroke-linecap="butt"/>
<line x1="700.0" y1="653.5" x2="700.0" y2="673.9" stroke="#000" stroke-width="0.8" stroke-linecap="butt"/>
<rect x="711.0" y="664.8" width="25.8" height="1.5" fill="#000"/>
<rect x="711.0" y="668.6" width="23.9" height="1.5" fill="#000"/>
<rect x="711.0" y="675.0" width="20.7" height="1.5" fill="#000"/>
<rect x="711.0" y="679.2" width="18.7" height="1.5" fill="#000"/>
<rect x="711.0" y="684.9" width="15.9" height="1.5" fill="#000"/>
<rect x="711.0" y="689.1" width="13.8" height="1.5" fill="#000"/>
<rect x="711.0" y="695.0" width="10.9" height="1.5" fill="#000"/>
<rect x="711.0" y="699.0" width="9.0" height="1.5" fill="#000"/>
<rect x="711.0" y="705.0" width="6.1" height="1.5" fill="#000"/>
<line x1="765.7" y1="659.0" x2="765.7" y2="713.1" stroke="#000" stroke-width="0.8" stroke-linecap="butt"/>
<polygon points="765.7,659.0 766.7,662.0 764.7,662.0" fill="#000"/>
<polygon points="765.7,713.1 764.7,710.1 766.7,710.1" fill="#000"/>
<text x="765.2" y="684.2" font-family="Liberation Serif" font-size="7.5" text-anchor="middle" fill="#000" stroke="#000" stroke-width="0.1">4'7"</text>
<line x1="703.0" y1="713.1" x2="778.0" y2="713.1" stroke="#000" stroke-width="0.8" stroke-linecap="butt"/>
<line x1="811.6" y1="659.0" x2="811.6" y2="688.0" stroke="#000" stroke-width="1.2" stroke-linecap="butt"/>
<line x1="817.0" y1="659.0" x2="817.0" y2="688.0" stroke="#000" stroke-width="1.2" stroke-linecap="butt"/>
<rect x="811.0" y="670.0" width="7.0" height="18.0" stroke="#000" stroke-width="1.0" fill="none"/>
<rect x="809.0" y="688.0" width="11.0" height="2.5" fill="#000"/>
<line x1="781.8" y1="661.0" x2="816.5" y2="676.4" stroke="#000" stroke-width="1.1" stroke-linecap="butt"/>
<rect x="817.0" y="663.0" width="3.0" height="5.0" fill="#000"/>
<rect x="701.5" y="711.0" width="5.0" height="12.0" stroke="#000" stroke-width="0.9" fill="none"/>
<rect x="699.0" y="722.0" width="10.0" height="3.0" fill="#000"/>
<rect x="287.0" y="710.0" width="5.0" height="12.0" stroke="none" fill="none"/>
<text x="768.9" y="578.4" font-family="Liberation Sans" font-size="7" text-anchor="start" textLength="60.0" lengthAdjust="spacing" fill="#000">MEASURE FROM</text>
<text x="762.7" y="590.3" font-family="Liberation Sans" font-size="7" text-anchor="start" textLength="71.2" lengthAdjust="spacing" fill="#000">START OF TOP RAIL</text>
<polyline points="768.0,575.0 755.7,575.0 716.0,598.0" stroke="#000" stroke-width="0.8" fill="none"/>
<polygon points="713.6,600.0 717.9,595.4 719.7,598.6" fill="#000"/>
<text x="865.6" y="620.5" font-family="Liberation Sans" font-size="7" text-anchor="start" textLength="50.1" lengthAdjust="spacing" fill="#000">POLISHED S/S</text>
<text x="868.6" y="631.7" font-family="Liberation Sans" font-size="7" text-anchor="start" textLength="43.4" lengthAdjust="spacing" fill="#000">NOSESHEET</text>
<polyline points="865.0,616.0 838.8,616.0 825.0,630.0" stroke="#000" stroke-width="0.8" fill="none"/>
<polygon points="822.7,631.7 825.7,626.2 828.2,628.7" fill="#000"/>
<line x1="487.6" y1="562.0" x2="487.6" y2="601.0" stroke="#000" stroke-width="0.7" stroke-linecap="butt"/>
<line x1="516.7" y1="562.0" x2="516.7" y2="601.0" stroke="#000" stroke-width="0.7" stroke-linecap="butt"/>
<line x1="525.5" y1="575.0" x2="525.5" y2="601.0" stroke="#000" stroke-width="0.7" stroke-linecap="butt"/>
<line x1="552.2" y1="575.0" x2="552.2" y2="601.0" stroke="#000" stroke-width="0.7" stroke-linecap="butt"/>
<line x1="711.2" y1="557.0" x2="711.2" y2="601.0" stroke="#000" stroke-width="0.7" stroke-linecap="butt"/>
<text x="502.0" y="566.3" font-family="Liberation Sans" font-size="6.5" text-anchor="middle" fill="#000">26"</text>
<text x="502.0" y="576.5" font-family="Liberation Sans" font-size="6.5" text-anchor="middle" fill="#000">NRB</text>
<line x1="487.6" y1="568.9" x2="494.0" y2="568.9" stroke="#000" stroke-width="0.8" stroke-linecap="butt"/>
<line x1="509.0" y1="568.9" x2="516.7" y2="568.9" stroke="#000" stroke-width="0.8" stroke-linecap="butt"/>
<line x1="516.7" y1="568.9" x2="600.0" y2="568.9" stroke="#000" stroke-width="0.8" stroke-linecap="butt"/>
<line x1="628.0" y1="568.9" x2="711.2" y2="568.9" stroke="#000" stroke-width="0.8" stroke-linecap="butt"/>
<polygon points="516.7,568.9 519.7,567.9 519.7,569.9" fill="#000"/>
<polygon points="711.2,568.9 708.2,569.9 708.2,567.9" fill="#000"/>
<text x="613.7" y="571.4" font-family="Liberation Sans" font-size="7" text-anchor="middle" fill="#000">174"</text>
<text x="538.9" y="584.5" font-family="Liberation Sans" font-size="6.5" text-anchor="middle" fill="#000">24"</text>
<text x="538.9" y="593.6" font-family="Liberation Sans" font-size="6.5" text-anchor="middle" fill="#000">NRB</text>
<line x1="525.5" y1="586.0" x2="531.0" y2="586.0" stroke="#000" stroke-width="0.8" stroke-linecap="butt"/>
<line x1="546.0" y1="586.0" x2="552.2" y2="586.0" stroke="#000" stroke-width="0.8" stroke-linecap="butt"/>
<line x1="552.2" y1="586.0" x2="620.0" y2="586.0" stroke="#000" stroke-width="0.8" stroke-linecap="butt"/>
<line x1="645.0" y1="586.0" x2="711.2" y2="586.0" stroke="#000" stroke-width="0.8" stroke-linecap="butt"/>
<polygon points="552.2,586.0 555.2,585.0 555.2,587.0" fill="#000"/>
<polygon points="711.2,586.0 708.2,587.0 708.2,585.0" fill="#000"/>
<text x="632.4" y="588.5" font-family="Liberation Sans" font-size="7" text-anchor="middle" fill="#000">142"</text>
<rect x="129.5" y="724.6" width="682.8" height="4.4" fill="#3a3a3a"/>
<rect x="130.7" y="725.6" width="1.8" height="2.4" fill="#fafafa"/>
<rect x="133.3" y="725.6" width="1.6" height="2.4" fill="#fafafa"/>
<rect x="136.1" y="725.6" width="9.6" height="2.4" fill="#909090"/>
<rect x="136.7" y="726.0" width="8.4" height="0.8" fill="#606060"/>
<rect x="136.1" y="727.3" width="9.6" height="0.7" fill="#c8c8c8"/>
<rect x="148.6" y="725.6" width="1.8" height="2.4" fill="#fafafa"/>
<rect x="151.2" y="725.6" width="1.6" height="2.4" fill="#fafafa"/>
<rect x="154.0" y="725.6" width="9.6" height="2.4" fill="#909090"/>
<rect x="154.6" y="726.0" width="8.4" height="0.8" fill="#606060"/>
<rect x="154.0" y="727.3" width="9.6" height="0.7" fill="#c8c8c8"/>
<rect x="166.5" y="725.6" width="1.8" height="2.4" fill="#fafafa"/>
<rect x="169.1" y="725.6" width="1.6" height="2.4" fill="#fafafa"/>
<rect x="171.9" y="725.6" width="9.6" height="2.4" fill="#909090"/>
<rect x="172.5" y="726.0" width="8.4" height="0.8" fill="#606060"/>
<rect x="171.9" y="727.3" width="9.6" height="0.7" fill="#c8c8c8"/>
<rect x="184.4" y="725.6" width="1.8" height="2.4" fill="#fafafa"/>
<rect x="187.0" y="725.6" width="1.6" height="2.4" fill="#fafafa"/>
<rect x="189.8" y="725.6" width="9.6" height="2.4" fill="#909090"/>
<rect x="190.4" y="726.0" width="8.4" height="0.8" fill="#606060"/>
<rect x="189.8" y="727.3" width="9.6" height="0.7" fill="#c8c8c8"/>
<rect x="202.3" y="725.6" width="1.8" height="2.4" fill="#fafafa"/>
<rect x="204.9" y="725.6" width="1.6" height="2.4" fill="#fafafa"/>
<rect x="207.7" y="725.6" width="9.6" height="2.4" fill="#909090"/>
<rect x="208.3" y="726.0" width="8.4" height="0.8" fill="#606060"/>
<rect x="207.7" y="727.3" width="9.6" height="0.7" fill="#c8c8c8"/>
<rect x="220.2" y="725.6" width="1.8" height="2.4" fill="#fafafa"/>
<rect x="222.8" y="725.6" width="1.6" height="2.4" fill="#fafafa"/>
<rect x="225.6" y="725.6" width="9.6" height="2.4" fill="#909090"/>
<rect x="226.2" y="726.0" width="8.4" height="0.8" fill="#606060"/>
<rect x="225.6" y="727.3" width="9.6" height="0.7" fill="#c8c8c8"/>
<rect x="238.1" y="725.6" width="1.8" height="2.4" fill="#fafafa"/>
<rect x="240.7" y="725.6" width="1.6" height="2.4" fill="#fafafa"/>
<rect x="243.5" y="725.6" width="9.6" height="2.4" fill="#909090"/>
<rect x="244.1" y="726.0" width="8.4" height="0.8" fill="#606060"/>
<rect x="243.5" y="727.3" width="9.6" height="0.7" fill="#c8c8c8"/>
<rect x="256.0" y="725.6" width="1.8" height="2.4" fill="#fafafa"/>
<rect x="258.6" y="725.6" width="1.6" height="2.4" fill="#fafafa"/>
<rect x="261.4" y="725.6" width="9.6" height="2.4" fill="#909090"/>
<rect x="262.0" y="726.0" width="8.4" height="0.8" fill="#606060"/>
<rect x="261.4" y="727.3" width="9.6" height="0.7" fill="#c8c8c8"/>
<rect x="273.9" y="725.6" width="1.8" height="2.4" fill="#fafafa"/>
<rect x="276.5" y="725.6" width="1.6" height="2.4" fill="#fafafa"/>
<rect x="279.3" y="725.6" width="9.6" height="2.4" fill="#909090"/>
<rect x="279.9" y="726.0" width="8.4" height="0.8" fill="#606060"/>
<rect x="279.3" y="727.3" width="9.6" height="0.7" fill="#c8c8c8"/>
<rect x="291.8" y="725.6" width="1.8" height="2.4" fill="#fafafa"/>
<rect x="294.4" y="725.6" width="1.6" height="2.4" fill="#fafafa"/>
<rect x="297.2" y="725.6" width="9.6" height="2.4" fill="#909090"/>
<rect x="297.8" y="726.0" width="8.4" height="0.8" fill="#606060"/>
<rect x="297.2" y="727.3" width="9.6" height="0.7" fill="#c8c8c8"/>
<rect x="309.7" y="725.6" width="1.8" height="2.4" fill="#fafafa"/>
<rect x="312.3" y="725.6" width="1.6" height="2.4" fill="#fafafa"/>
<rect x="315.1" y="725.6" width="9.6" height="2.4" fill="#909090"/>
<rect x="315.7" y="726.0" width="8.4" height="0.8" fill="#606060"/>
<rect x="315.1" y="727.3" width="9.6" height="0.7" fill="#c8c8c8"/>
<rect x="327.6" y="725.6" width="1.8" height="2.4" fill="#fafafa"/>
<rect x="330.2" y="725.6" width="1.6" height="2.4" fill="#fafafa"/>
<rect x="333.0" y="725.6" width="9.6" height="2.4" fill="#909090"/>
<rect x="333.6" y="726.0" width="8.4" height="0.8" fill="#606060"/>
<rect x="333.0" y="727.3" width="9.6" height="0.7" fill="#c8c8c8"/>
<rect x="345.5" y="725.6" width="1.8" height="2.4" fill="#fafafa"/>
<rect x="348.1" y="725.6" width="1.6" height="2.4" fill="#fafafa"/>
<rect x="350.9" y="725.6" width="9.6" height="2.4" fill="#909090"/>
<rect x="351.5" y="726.0" width="8.4" height="0.8" fill="#606060"/>
<rect x="350.9" y="727.3" width="9.6" height="0.7" fill="#c8c8c8"/>
<rect x="363.4" y="725.6" width="1.8" height="2.4" fill="#fafafa"/>
<rect x="366.0" y="725.6" width="1.6" height="2.4" fill="#fafafa"/>
<rect x="368.8" y="725.6" width="9.6" height="2.4" fill="#909090"/>
<rect x="369.4" y="726.0" width="8.4" height="0.8" fill="#606060"/>
<rect x="368.8" y="727.3" width="9.6" height="0.7" fill="#c8c8c8"/>
<rect x="381.3" y="725.6" width="1.8" height="2.4" fill="#fafafa"/>
<rect x="383.9" y="725.6" width="1.6" height="2.4" fill="#fafafa"/>
<rect x="386.7" y="725.6" width="9.6" height="2.4" fill="#909090"/>
<rect x="387.3" y="726.0" width="8.4" height="0.8" fill="#606060"/>
<rect x="386.7" y="727.3" width="9.6" height="0.7" fill="#c8c8c8"/>
<rect x="399.2" y="725.6" width="1.8" height="2.4" fill="#fafafa"/>
<rect x="401.8" y="725.6" width="1.6" height="2.4" fill="#fafafa"/>
<rect x="404.6" y="725.6" width="9.6" height="2.4" fill="#909090"/>
<rect x="405.2" y="726.0" width="8.4" height="0.8" fill="#606060"/>
<rect x="404.6" y="727.3" width="9.6" height="0.7" fill="#c8c8c8"/>
<rect x="417.1" y="725.6" width="1.8" height="2.4" fill="#fafafa"/>
<rect x="419.7" y="725.6" width="1.6" height="2.4" fill="#fafafa"/>
<rect x="422.5" y="725.6" width="9.6" height="2.4" fill="#909090"/>
<rect x="423.1" y="726.0" width="8.4" height="0.8" fill="#606060"/>
<rect x="422.5" y="727.3" width="9.6" height="0.7" fill="#c8c8c8"/>
<rect x="435.0" y="725.6" width="1.8" height="2.4" fill="#fafafa"/>
<rect x="437.6" y="725.6" width="1.6" height="2.4" fill="#fafafa"/>
<rect x="440.4" y="725.6" width="9.6" height="2.4" fill="#909090"/>
<rect x="441.0" y="726.0" width="8.4" height="0.8" fill="#606060"/>
<rect x="440.4" y="727.3" width="9.6" height="0.7" fill="#c8c8c8"/>
<rect x="452.9" y="725.6" width="1.8" height="2.4" fill="#fafafa"/>
<rect x="455.5" y="725.6" width="1.6" height="2.4" fill="#fafafa"/>
<rect x="458.3" y="725.6" width="9.6" height="2.4" fill="#909090"/>
<rect x="458.9" y="726.0" width="8.4" height="0.8" fill="#606060"/>
<rect x="458.3" y="727.3" width="9.6" height="0.7" fill="#c8c8c8"/>
<rect x="470.8" y="725.6" width="1.8" height="2.4" fill="#fafafa"/>
<rect x="473.4" y="725.6" width="1.6" height="2.4" fill="#fafafa"/>
<rect x="476.2" y="725.6" width="9.6" height="2.4" fill="#909090"/>
<rect x="476.8" y="726.0" width="8.4" height="0.8" fill="#606060"/>
<rect x="476.2" y="727.3" width="9.6" height="0.7" fill="#c8c8c8"/>
<rect x="488.7" y="725.6" width="1.8" height="2.4" fill="#fafafa"/>
<rect x="491.3" y="725.6" width="1.6" height="2.4" fill="#fafafa"/>
<rect x="494.1" y="725.6" width="9.6" height="2.4" fill="#909090"/>
<rect x="494.7" y="726.0" width="8.4" height="0.8" fill="#606060"/>
<rect x="494.1" y="727.3" width="9.6" height="0.7" fill="#c8c8c8"/>
<rect x="506.6" y="725.6" width="1.8" height="2.4" fill="#fafafa"/>
<rect x="509.2" y="725.6" width="1.6" height="2.4" fill="#fafafa"/>
<rect x="512.0" y="725.6" width="9.6" height="2.4" fill="#909090"/>
<rect x="512.6" y="726.0" width="8.4" height="0.8" fill="#606060"/>
<rect x="512.0" y="727.3" width="9.6" height="0.7" fill="#c8c8c8"/>
<rect x="524.5" y="725.6" width="1.8" height="2.4" fill="#fafafa"/>
<rect x="527.1" y="725.6" width="1.6" height="2.4" fill="#fafafa"/>
<rect x="529.9" y="725.6" width="9.6" height="2.4" fill="#909090"/>
<rect x="530.5" y="726.0" width="8.4" height="0.8" fill="#606060"/>
<rect x="529.9" y="727.3" width="9.6" height="0.7" fill="#c8c8c8"/>
<rect x="542.4" y="725.6" width="1.8" height="2.4" fill="#fafafa"/>
<rect x="545.0" y="725.6" width="1.6" height="2.4" fill="#fafafa"/>
<rect x="547.8" y="725.6" width="9.6" height="2.4" fill="#909090"/>
<rect x="548.4" y="726.0" width="8.4" height="0.8" fill="#606060"/>
<rect x="547.8" y="727.3" width="9.6" height="0.7" fill="#c8c8c8"/>
<rect x="560.3" y="725.6" width="1.8" height="2.4" fill="#fafafa"/>
<rect x="562.9" y="725.6" width="1.6" height="2.4" fill="#fafafa"/>
<rect x="565.7" y="725.6" width="9.6" height="2.4" fill="#909090"/>
<rect x="566.3" y="726.0" width="8.4" height="0.8" fill="#606060"/>
<rect x="565.7" y="727.3" width="9.6" height="0.7" fill="#c8c8c8"/>
<rect x="578.2" y="725.6" width="1.8" height="2.4" fill="#fafafa"/>
<rect x="580.8" y="725.6" width="1.6" height="2.4" fill="#fafafa"/>
<rect x="583.6" y="725.6" width="9.6" height="2.4" fill="#909090"/>
<rect x="584.2" y="726.0" width="8.4" height="0.8" fill="#606060"/>
<rect x="583.6" y="727.3" width="9.6" height="0.7" fill="#c8c8c8"/>
<rect x="596.1" y="725.6" width="1.8" height="2.4" fill="#fafafa"/>
<rect x="598.7" y="725.6" width="1.6" height="2.4" fill="#fafafa"/>
<rect x="601.5" y="725.6" width="9.6" height="2.4" fill="#909090"/>
<rect x="602.1" y="726.0" width="8.4" height="0.8" fill="#606060"/>
<rect x="601.5" y="727.3" width="9.6" height="0.7" fill="#c8c8c8"/>
<rect x="614.0" y="725.6" width="1.8" height="2.4" fill="#fafafa"/>
<rect x="616.6" y="725.6" width="1.6" height="2.4" fill="#fafafa"/>
<rect x="619.4" y="725.6" width="9.6" height="2.4" fill="#909090"/>
<rect x="620.0" y="726.0" width="8.4" height="0.8" fill="#606060"/>
<rect x="619.4" y="727.3" width="9.6" height="0.7" fill="#c8c8c8"/>
<rect x="631.9" y="725.6" width="1.8" height="2.4" fill="#fafafa"/>
<rect x="634.5" y="725.6" width="1.6" height="2.4" fill="#fafafa"/>
<rect x="637.3" y="725.6" width="9.6" height="2.4" fill="#909090"/>
<rect x="637.9" y="726.0" width="8.4" height="0.8" fill="#606060"/>
<rect x="637.3" y="727.3" width="9.6" height="0.7" fill="#c8c8c8"/>
<rect x="649.8" y="725.6" width="1.8" height="2.4" fill="#fafafa"/>
<rect x="652.4" y="725.6" width="1.6" height="2.4" fill="#fafafa"/>
<rect x="655.2" y="725.6" width="9.6" height="2.4" fill="#909090"/>
<rect x="655.8" y="726.0" width="8.4" height="0.8" fill="#606060"/>
<rect x="655.2" y="727.3" width="9.6" height="0.7" fill="#c8c8c8"/>
<rect x="667.7" y="725.6" width="1.8" height="2.4" fill="#fafafa"/>
<rect x="670.3" y="725.6" width="1.6" height="2.4" fill="#fafafa"/>
<rect x="673.1" y="725.6" width="9.6" height="2.4" fill="#909090"/>
<rect x="673.7" y="726.0" width="8.4" height="0.8" fill="#606060"/>
<rect x="673.1" y="727.3" width="9.6" height="0.7" fill="#c8c8c8"/>
<rect x="685.6" y="725.6" width="1.8" height="2.4" fill="#fafafa"/>
<rect x="688.2" y="725.6" width="1.6" height="2.4" fill="#fafafa"/>
<rect x="691.0" y="725.6" width="9.6" height="2.4" fill="#909090"/>
<rect x="691.6" y="726.0" width="8.4" height="0.8" fill="#606060"/>
<rect x="691.0" y="727.3" width="9.6" height="0.7" fill="#c8c8c8"/>
<rect x="703.5" y="725.6" width="1.8" height="2.4" fill="#fafafa"/>
<rect x="706.1" y="725.6" width="1.6" height="2.4" fill="#fafafa"/>
<rect x="708.9" y="725.6" width="9.6" height="2.4" fill="#909090"/>
<rect x="709.5" y="726.0" width="8.4" height="0.8" fill="#606060"/>
<rect x="708.9" y="727.3" width="9.6" height="0.7" fill="#c8c8c8"/>
<rect x="721.4" y="725.6" width="1.8" height="2.4" fill="#fafafa"/>
<rect x="724.0" y="725.6" width="1.6" height="2.4" fill="#fafafa"/>
<rect x="726.8" y="725.6" width="9.6" height="2.4" fill="#909090"/>
<rect x="727.4" y="726.0" width="8.4" height="0.8" fill="#606060"/>
<rect x="726.8" y="727.3" width="9.6" height="0.7" fill="#c8c8c8"/>
<rect x="739.3" y="725.6" width="1.8" height="2.4" fill="#fafafa"/>
<rect x="741.9" y="725.6" width="1.6" height="2.4" fill="#fafafa"/>
<rect x="744.7" y="725.6" width="9.6" height="2.4" fill="#909090"/>
<rect x="745.3" y="726.0" width="8.4" height="0.8" fill="#606060"/>
<rect x="744.7" y="727.3" width="9.6" height="0.7" fill="#c8c8c8"/>
<rect x="757.2" y="725.6" width="1.8" height="2.4" fill="#fafafa"/>
<rect x="759.8" y="725.6" width="1.6" height="2.4" fill="#fafafa"/>
<rect x="762.6" y="725.6" width="9.6" height="2.4" fill="#909090"/>
<rect x="763.2" y="726.0" width="8.4" height="0.8" fill="#606060"/>
<rect x="762.6" y="727.3" width="9.6" height="0.7" fill="#c8c8c8"/>
<rect x="775.1" y="725.6" width="1.8" height="2.4" fill="#fafafa"/>
<rect x="777.7" y="725.6" width="1.6" height="2.4" fill="#fafafa"/>
<rect x="780.5" y="725.6" width="9.6" height="2.4" fill="#909090"/>
<rect x="781.1" y="726.0" width="8.4" height="0.8" fill="#606060"/>
<rect x="780.5" y="727.3" width="9.6" height="0.7" fill="#c8c8c8"/>
<rect x="793.0" y="725.6" width="1.8" height="2.4" fill="#fafafa"/>
<rect x="795.6" y="725.6" width="1.6" height="2.4" fill="#fafafa"/>
<rect x="798.4" y="725.6" width="9.6" height="2.4" fill="#909090"/>
<rect x="799.0" y="726.0" width="8.4" height="0.8" fill="#606060"/>
<rect x="798.4" y="727.3" width="9.6" height="0.7" fill="#c8c8c8"/>
<rect x="810.9" y="725.6" width="0.4" height="2.4" fill="#fafafa"/>
<text x="178.4" y="740.0" font-family="Liberation Sans" font-size="6.5" text-anchor="middle" textLength="23.0" lengthAdjust="spacing" fill="#000">BOGIE</text>
<text x="178.4" y="750.7" font-family="Liberation Sans" font-size="6.5" text-anchor="middle" textLength="28.0" lengthAdjust="spacing" fill="#000">WHEELS</text>
<polyline points="193.0,748.0 200.8,748.0 200.8,715.0" stroke="#000" stroke-width="0.8" fill="none"/>
<polygon points="200.8,712.0 202.4,717.0 199.2,717.0" fill="#000"/>
<text x="224.1" y="752.4" font-family="Liberation Sans" font-size="6.5" text-anchor="start" textLength="77.9" lengthAdjust="spacing" fill="#000">AIR RIDE - 8K w/ 5/8"</text>
<text x="224.1" y="763.4" font-family="Liberation Sans" font-size="6.5" text-anchor="start" textLength="76.9" lengthAdjust="spacing" fill="#000">STUDS - 0° AXLE ART.</text>
<polyline points="302.0,760.0 327.0,760.0 327.0,711.7" stroke="#000" stroke-width="0.8" fill="none"/>
<polygon points="327.0,709.0 328.6,714.0 325.4,714.0" fill="#000"/>
<text x="506.8" y="739.4" font-family="Liberation Sans" font-size="6.5" text-anchor="start" textLength="64.2" lengthAdjust="spacing" fill="#000">HD BOTTOM RAIL</text>
<text x="538.4" y="750.4" font-family="Liberation Sans" font-size="6.5" text-anchor="middle" textLength="40.0" lengthAdjust="spacing" fill="#000">BOTH SIDES</text>
<polyline points="506.0,733.0 480.7,733.4 464.0,711.7" stroke="#000" stroke-width="0.8" fill="none"/>
<polygon points="462.0,709.0 466.3,712.0 463.8,713.9" fill="#000"/>
<text x="653.5" y="739.4" font-family="Liberation Sans" font-size="6.5" text-anchor="start" textLength="96.2" lengthAdjust="spacing" fill="#000">ENCLOSE GN W/ ROLL UP</text>
<text x="659.3" y="750.4" font-family="Liberation Sans" font-size="6.5" text-anchor="start" textLength="84.5" lengthAdjust="spacing" fill="#000">DOOR &amp; SOLID FLOOR</text>
<text x="674.1" y="762.4" font-family="Liberation Sans" font-size="6.5" font-style="italic" text-anchor="start" textLength="56.0" lengthAdjust="spacing" fill="#000">SPEC. REQ. #15</text>
<polyline points="730.0,759.0 775.4,759.0 731.0,690.0" stroke="#000" stroke-width="0.8" fill="none"/>
<polygon points="729.7,687.5 734.5,691.6 731.5,693.5" fill="#000"/>
<rect x="17.5" y="717.4" width="134.9" height="74.8" stroke="#000" stroke-width="1.1" fill="none"/>
<line x1="17.5" y1="731.0" x2="152.4" y2="731.0" stroke="#000" stroke-width="1.1" stroke-linecap="butt"/>
<text x="19.4" y="727.4" font-family="Liberation Sans" font-size="10.5" font-weight="bold" text-anchor="start" textLength="55.0" lengthAdjust="spacingAndGlyphs" fill="#000">X/Z VALUE:</text>
<text x="88.0" y="727.2" font-family="Liberation Sans" font-size="10" text-anchor="start" textLength="43.5" lengthAdjust="spacingAndGlyphs" fill="#000">0.7881 66</text>
<text x="22.8" y="742.0" font-family="Liberation Sans" font-size="6.3" font-weight="bold" text-anchor="start" textLength="117.4" lengthAdjust="spacing" fill="#000">PROPRIETARY AND CONFIDENTIAL</text>
<text x="22.8" y="755.3" font-family="Liberation Sans" font-size="5.6" text-anchor="start" textLength="115.0" lengthAdjust="spacing" fill="#000">THE INFORMATION CONTAINED IN THE</text>
<text x="22.8" y="761.6" font-family="Liberation Sans" font-size="5.6" text-anchor="start" textLength="108.0" lengthAdjust="spacing" fill="#000">DRAWING IS THE SOLE PROPERTY OF</text>
<text x="22.8" y="768.2" font-family="Liberation Sans" font-size="5.6" text-anchor="start" textLength="81.0" lengthAdjust="spacing" fill="#000">CIMARRON TRAILERS.  ANY</text>
<text x="22.8" y="775.2" font-family="Liberation Sans" font-size="5.6" text-anchor="start" textLength="126.0" lengthAdjust="spacing" fill="#000">REPRODUCTION IN PART OR AS A WHOLE</text>
<text x="22.8" y="781.4" font-family="Liberation Sans" font-size="5.6" text-anchor="start" textLength="121.0" lengthAdjust="spacing" fill="#000">WITHOUT THE WRITTEN PERMISSION OF</text>
<text x="22.8" y="788.6" font-family="Liberation Sans" font-size="5.6" text-anchor="start" textLength="107.0" lengthAdjust="spacing" fill="#000">CIMARRON TRAILERS IS PROHIBITED.</text>
<text x="161.0" y="785.5" font-family="Liberation Serif" font-size="14.5" font-weight="bold" text-anchor="start" textLength="664.0" lengthAdjust="spacingAndGlyphs" fill="#000">ALUMINUM FOUR HORSE NORSTAR SLANT STALL-SIDE LOAD-INTEGRATED POD-LQ SHELL MODEL GOOSENECK TRAILER</text>
<line x1="161.0" y1="787.4" x2="825.0" y2="787.4" stroke="#000" stroke-width="1.1" stroke-linecap="butt"/>
<rect x="835.6" y="703.4" width="193.9" height="88.8" stroke="#000" stroke-width="1.1" fill="none"/>
<line x1="835.6" y1="736.3" x2="1029.5" y2="736.3" stroke="#000" stroke-width="1.0" stroke-linecap="butt"/>
<line x1="835.6" y1="746.6" x2="1029.5" y2="746.6" stroke="#000" stroke-width="1.0" stroke-linecap="butt"/>
<line x1="835.6" y1="758.2" x2="1029.5" y2="758.2" stroke="#000" stroke-width="1.0" stroke-linecap="butt"/>
<line x1="835.6" y1="769.4" x2="1029.5" y2="769.4" stroke="#000" stroke-width="1.0" stroke-linecap="butt"/>
<line x1="835.6" y1="780.6" x2="1029.5" y2="780.6" stroke="#000" stroke-width="1.0" stroke-linecap="butt"/>
<line x1="942.5" y1="780.6" x2="942.5" y2="792.2" stroke="#000" stroke-width="1.0" stroke-linecap="butt"/>
<g>
<path d="M898.5,704.3 L893,711.8 C881,711.5 871.5,714 870.5,720 C869.5,725.5 874,727.6 881,727.8 L877,735 C863,735.2 853.5,731 855.5,721.5 C857.5,711 872,704.3 898.5,704.3 Z" fill="#000"/>
<text x="887" y="727" font-family="Liberation Sans" font-weight="bold" font-style="italic" font-size="22" textLength="118" lengthAdjust="spacingAndGlyphs" fill="#000" stroke="#000" stroke-width="0.9">imarron</text>
<polygon points="877,727.3 1003,727.3 999.5,735 873,735" fill="#000"/>
<text x="899" y="734.2" font-family="Liberation Sans" font-weight="bold" font-style="italic" font-size="8.2" textLength="93" lengthAdjust="spacingAndGlyphs" fill="#fff">TRAILERS</text>
<circle cx="1009.5" cy="729" r="2" stroke="#000" stroke-width="0.7" fill="none"/>
<text x="1009.5" y="730.3" font-family="Liberation Sans" font-size="3" text-anchor="middle" fill="#000">R</text>
</g>
<text x="876.8" y="743.7" font-family="Liberation Sans" font-size="6.8" text-anchor="start" textLength="120.0" lengthAdjust="spacing" fill="#000">CHICKASHA, OKLAHOMA 73023</text>
<text x="837.6" y="755.4" font-family="Liberation Sans" font-size="10.5" font-weight="bold" text-anchor="start" textLength="37.9" lengthAdjust="spacingAndGlyphs" fill="#000">DEALER:</text>
<text x="875.5" y="755.6" font-family="Liberation Sans" font-size="11" text-anchor="start" textLength="152.5" lengthAdjust="spacingAndGlyphs" fill="#000">TRANSWEST TRUCK TRAILER RV</text>
<text x="837.6" y="767.0" font-family="Liberation Sans" font-size="10.5" font-weight="bold" text-anchor="start" textLength="92.4" lengthAdjust="spacingAndGlyphs" fill="#000">WORK ORDER NO.:</text>
<text x="952.5" y="767.2" font-family="Liberation Sans" font-size="11" text-anchor="start" textLength="52.1" lengthAdjust="spacing" fill="#000">CTMI7337</text>
<text x="837.6" y="778.8" font-family="Liberation Sans" font-size="10.5" font-weight="bold" text-anchor="start" textLength="57.0" lengthAdjust="spacingAndGlyphs" fill="#000">CUSTOMER:</text>
<text x="934.3" y="779.0" font-family="Liberation Sans" font-size="11" text-anchor="start" textLength="56.7" lengthAdjust="spacingAndGlyphs" fill="#000">INVENTORY</text>
<text x="837.6" y="790.0" font-family="Liberation Sans" font-size="10.5" font-weight="bold" text-anchor="start" textLength="26.8" lengthAdjust="spacingAndGlyphs" fill="#000">DATE:</text>
<text x="881.2" y="790.2" font-family="Liberation Sans" font-size="11" text-anchor="start" textLength="50.2" lengthAdjust="spacing" fill="#000">3/18/2025</text>
<text x="945.0" y="790.0" font-family="Liberation Sans" font-size="10.5" font-weight="bold" text-anchor="start" textLength="55.3" lengthAdjust="spacingAndGlyphs" fill="#000">DRAWN BY:</text>
<text x="1005.8" y="790.2" font-family="Liberation Sans" font-size="11" text-anchor="start" textLength="12.4" lengthAdjust="spacingAndGlyphs" fill="#000">AJ</text>
</svg>
</body></html>
